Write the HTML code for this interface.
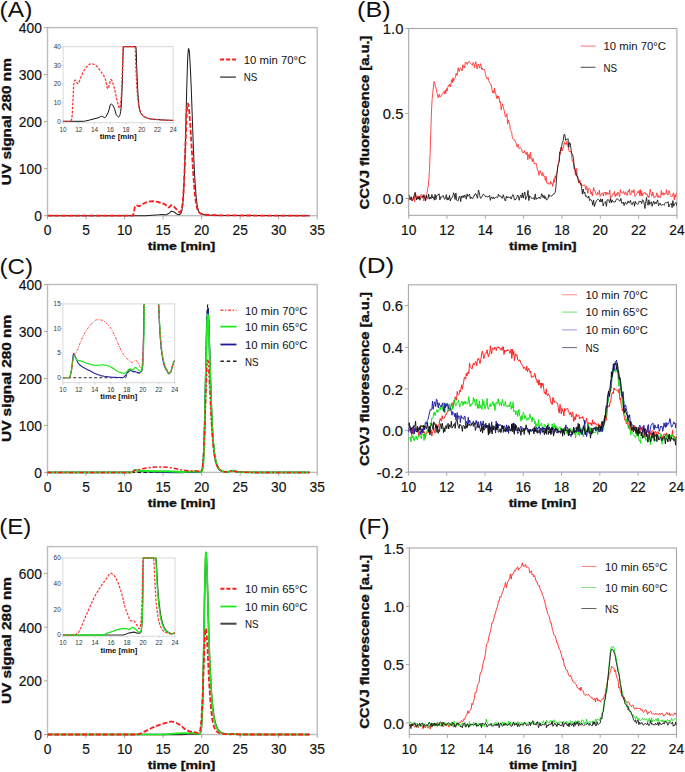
<!DOCTYPE html>
<html><head><meta charset="utf-8"><style>
html,body{margin:0;padding:0;background:#fff;width:685px;height:772px;overflow:hidden}
svg{display:block;font-family:"Liberation Sans", sans-serif}
</style></head><body>
<svg width="685" height="772" viewBox="0 0 685 772">
<defs><clipPath id="cA"><rect x="47.5" y="25.6" width="269.7" height="192.1"/></clipPath><clipPath id="cB"><rect x="408.7" y="28.5" width="268.2" height="186.8"/></clipPath><clipPath id="cC"><rect x="47.5" y="281.5" width="269.7" height="192.9"/></clipPath><clipPath id="cIC"><rect x="62.9" y="304.3" width="111.8" height="78.4"/></clipPath><clipPath id="cD"><rect x="408.4" y="284.8" width="268" height="187.4"/></clipPath><clipPath id="cE"><rect x="47.5" y="546.6" width="269.7" height="189.9"/></clipPath><clipPath id="cIE"><rect x="62.9" y="557" width="112.1" height="79.2"/></clipPath><clipPath id="cF"><rect x="409.3" y="548" width="267.2" height="186.4"/></clipPath></defs>
<rect x="47.5" y="27.6" width="269.7" height="188.1" fill="none" stroke="#bdbdbd" stroke-width="1.4"/>
<line x1="47.5" y1="215.7" x2="47.5" y2="219.2" stroke="#a8a8a8" stroke-width="1"/>
<text x="47.5" y="235" font-size="13.8" text-anchor="middle" fill="#111" stroke="#111" stroke-width="0.15">0</text>
<line x1="86.03" y1="215.7" x2="86.03" y2="219.2" stroke="#a8a8a8" stroke-width="1"/>
<text x="86.03" y="235" font-size="13.8" text-anchor="middle" fill="#111" stroke="#111" stroke-width="0.15">5</text>
<line x1="124.56" y1="215.7" x2="124.56" y2="219.2" stroke="#a8a8a8" stroke-width="1"/>
<text x="124.56" y="235" font-size="13.8" text-anchor="middle" fill="#111" stroke="#111" stroke-width="0.15">10</text>
<line x1="163.09" y1="215.7" x2="163.09" y2="219.2" stroke="#a8a8a8" stroke-width="1"/>
<text x="163.09" y="235" font-size="13.8" text-anchor="middle" fill="#111" stroke="#111" stroke-width="0.15">15</text>
<line x1="201.61" y1="215.7" x2="201.61" y2="219.2" stroke="#a8a8a8" stroke-width="1"/>
<text x="201.61" y="235" font-size="13.8" text-anchor="middle" fill="#111" stroke="#111" stroke-width="0.15">20</text>
<line x1="240.14" y1="215.7" x2="240.14" y2="219.2" stroke="#a8a8a8" stroke-width="1"/>
<text x="240.14" y="235" font-size="13.8" text-anchor="middle" fill="#111" stroke="#111" stroke-width="0.15">25</text>
<line x1="278.67" y1="215.7" x2="278.67" y2="219.2" stroke="#a8a8a8" stroke-width="1"/>
<text x="278.67" y="235" font-size="13.8" text-anchor="middle" fill="#111" stroke="#111" stroke-width="0.15">30</text>
<line x1="317.2" y1="215.7" x2="317.2" y2="219.2" stroke="#a8a8a8" stroke-width="1"/>
<text x="317.2" y="235" font-size="13.8" text-anchor="middle" fill="#111" stroke="#111" stroke-width="0.15">35</text>
<line x1="44" y1="215.7" x2="47.5" y2="215.7" stroke="#a8a8a8" stroke-width="1"/>
<text x="41.9" y="221.3" font-size="13.8" text-anchor="end" fill="#111" stroke="#111" stroke-width="0.15">0</text>
<line x1="44" y1="168.67" x2="47.5" y2="168.67" stroke="#a8a8a8" stroke-width="1"/>
<text x="41.9" y="174.27" font-size="13.8" text-anchor="end" fill="#111" stroke="#111" stroke-width="0.15">100</text>
<line x1="44" y1="121.65" x2="47.5" y2="121.65" stroke="#a8a8a8" stroke-width="1"/>
<text x="41.9" y="127.25" font-size="13.8" text-anchor="end" fill="#111" stroke="#111" stroke-width="0.15">200</text>
<line x1="44" y1="74.62" x2="47.5" y2="74.62" stroke="#a8a8a8" stroke-width="1"/>
<text x="41.9" y="80.22" font-size="13.8" text-anchor="end" fill="#111" stroke="#111" stroke-width="0.15">300</text>
<line x1="44" y1="27.6" x2="47.5" y2="27.6" stroke="#a8a8a8" stroke-width="1"/>
<text x="41.9" y="33.2" font-size="13.8" text-anchor="end" fill="#111" stroke="#111" stroke-width="0.15">400</text>
<text x="181.5" y="250.3" font-size="11.5" text-anchor="middle" fill="#111" stroke="#111" stroke-width="0.35" font-weight="bold" textLength="67.5" lengthAdjust="spacingAndGlyphs">time [min]</text>
<text x="11" y="121.65" font-size="12.8" text-anchor="middle" fill="#111" stroke="#111" stroke-width="0.35" font-weight="bold" textLength="127" lengthAdjust="spacingAndGlyphs" transform="rotate(-90 11 121.65)">UV signal 280 nm</text>
<text x="-0.4" y="16.6" font-size="21.5" text-anchor="start" fill="#111" textLength="32.8" lengthAdjust="spacingAndGlyphs">(A)</text>
<path d="M47.5,215.7 145.5,215.7 158.8,214.8 162.2,214.4 163.2,214.5 164.8,214.7 165.8,214.7 166.8,214.4 168.5,213.6 169.2,213.1 170.5,211.8 171.2,211.4 171.5,211.3 172.5,211.4 174.2,212.1 174.8,212.5 176.5,213.9 176.8,214.1 177.8,214.4 178.5,214.6 179.2,214.6 179.8,214.4 180.5,213.9 180.8,213.4 181.2,212.8 181.5,211.9 181.8,210.7 182.2,209.0 182.5,206.7 183.2,199.8 183.8,188.8 184.5,172.7 185.2,151.4 186.8,85.9 187.5,64.1 187.8,56.3 188.2,51.0 188.5,48.6 188.8,48.9 189.2,50.7 189.5,53.9 189.8,58.4 190.5,70.9 191.2,86.9 193.5,150.7 194.5,172.9 195.2,184.6 196.2,197.3 196.5,200.5 197.2,205.3 197.5,207.1 198.2,209.8 198.8,211.5 199.5,212.6 200.2,213.3 200.8,213.7 201.5,214.0 202.8,214.3 204.8,214.7 206.8,214.9 208.8,215.1 211.5,215.2 224.8,215.4 242.5,215.5 309.5,215.7" fill="none" stroke="#222" stroke-width="1.05" stroke-linejoin="round" clip-path="url(#cA)"/>
<path d="M47.5,215.7 132.2,215.7 132.5,215.6 132.8,215.3 133.5,214.1 133.8,212.8 134.8,207.1 135.2,206.1 135.8,205.5 136.2,205.3 136.5,205.3 137.2,205.5 138.5,206.1 139.2,206.2 139.5,206.1 140.2,205.8 141.8,204.6 144.2,203.3 145.5,202.7 147.5,202.0 149.5,201.5 150.8,201.3 152.2,201.2 154.5,201.3 157.8,201.9 159.2,202.3 164.5,204.2 165.5,204.7 165.8,205.0 167.5,206.9 168.2,207.4 168.5,207.5 168.8,207.4 169.2,207.2 170.5,205.8 171.2,205.3 171.5,205.2 172.2,205.3 172.8,205.7 174.5,207.1 177.2,210.2 178.8,211.8 179.5,212.3 179.8,212.4 180.2,212.3 180.5,212.1 180.8,211.5 181.5,209.6 181.8,208.3 182.5,204.1 183.2,197.1 183.8,186.4 184.5,171.8 186.5,118.2 186.8,111.6 187.2,106.8 187.5,104.1 187.8,103.6 188.2,104.2 188.5,105.7 188.8,107.9 189.2,110.9 189.8,118.8 190.5,128.6 193.2,173.0 194.2,186.5 194.8,193.6 195.8,201.7 196.2,203.8 196.8,207.0 197.5,209.4 198.2,211.0 198.8,212.1 199.5,212.8 200.2,213.3 201.2,213.8 204.8,214.6 208.8,215.0 213.5,215.2 224.2,215.4 245.5,215.5 309.5,215.7" fill="none" stroke="#ff1a1a" stroke-width="1.8" stroke-linejoin="round" stroke-dasharray="4.9 2.0" clip-path="url(#cA)"/>
<line x1="220.1" y1="59.6" x2="235.9" y2="59.6" stroke="#ff1a1a" stroke-width="2" stroke-dasharray="4 2"/>
<text x="243.8" y="63.9" font-size="10.7" text-anchor="start" fill="#111" textLength="62.5" lengthAdjust="spacingAndGlyphs">10 min 70°C</text>
<line x1="220.1" y1="77.1" x2="235.9" y2="77.1" stroke="#111" stroke-width="1.1"/>
<text x="243.8" y="81.4" font-size="10.7" text-anchor="start" fill="#111" textLength="13.6" lengthAdjust="spacingAndGlyphs">NS</text>
<rect x="63.1" y="46.7" width="110.1" height="76" fill="#fff" stroke="#d4d4d4" stroke-width="0.9"/>
<line x1="63.1" y1="122.7" x2="63.1" y2="124.5" stroke="#c8c8c8" stroke-width="0.8"/>
<text x="63.1" y="131.6" font-size="6.4" text-anchor="middle" fill="#333">10</text>
<line x1="78.83" y1="122.7" x2="78.83" y2="124.5" stroke="#c8c8c8" stroke-width="0.8"/>
<text x="78.83" y="131.6" font-size="6.4" text-anchor="middle" fill="#333">12</text>
<line x1="94.56" y1="122.7" x2="94.56" y2="124.5" stroke="#c8c8c8" stroke-width="0.8"/>
<text x="94.56" y="131.6" font-size="6.4" text-anchor="middle" fill="#333">14</text>
<line x1="110.29" y1="122.7" x2="110.29" y2="124.5" stroke="#c8c8c8" stroke-width="0.8"/>
<text x="110.29" y="131.6" font-size="6.4" text-anchor="middle" fill="#333">16</text>
<line x1="126.01" y1="122.7" x2="126.01" y2="124.5" stroke="#c8c8c8" stroke-width="0.8"/>
<text x="126.01" y="131.6" font-size="6.4" text-anchor="middle" fill="#333">18</text>
<line x1="141.74" y1="122.7" x2="141.74" y2="124.5" stroke="#c8c8c8" stroke-width="0.8"/>
<text x="141.74" y="131.6" font-size="6.4" text-anchor="middle" fill="#333">20</text>
<line x1="157.47" y1="122.7" x2="157.47" y2="124.5" stroke="#c8c8c8" stroke-width="0.8"/>
<text x="157.47" y="131.6" font-size="6.4" text-anchor="middle" fill="#333">22</text>
<line x1="173.2" y1="122.7" x2="173.2" y2="124.5" stroke="#c8c8c8" stroke-width="0.8"/>
<text x="173.2" y="131.6" font-size="6.4" text-anchor="middle" fill="#333">24</text>
<line x1="61.3" y1="121.3" x2="63.1" y2="121.3" stroke="#c8c8c8" stroke-width="0.8"/>
<text x="60.9" y="123.6" font-size="6.4" text-anchor="end" fill="#333">0</text>
<line x1="61.3" y1="102.65" x2="63.1" y2="102.65" stroke="#c8c8c8" stroke-width="0.8"/>
<text x="60.9" y="104.95" font-size="6.4" text-anchor="end" fill="#333">10</text>
<line x1="61.3" y1="84" x2="63.1" y2="84" stroke="#c8c8c8" stroke-width="0.8"/>
<text x="60.9" y="86.3" font-size="6.4" text-anchor="end" fill="#333">20</text>
<line x1="61.3" y1="65.35" x2="63.1" y2="65.35" stroke="#c8c8c8" stroke-width="0.8"/>
<text x="60.9" y="67.65" font-size="6.4" text-anchor="end" fill="#333">30</text>
<line x1="61.3" y1="46.7" x2="63.1" y2="46.7" stroke="#c8c8c8" stroke-width="0.8"/>
<text x="60.9" y="49" font-size="6.4" text-anchor="end" fill="#333">40</text>
<text x="118.15" y="139.4" font-size="6.6" text-anchor="middle" fill="#111" font-weight="bold" textLength="37" lengthAdjust="spacingAndGlyphs">time [min]</text>
<path d="M63.1,121.3 83.7,121.3 85.4,121.0 89.4,120.1 98.0,117.8 99.0,117.5 100.7,116.5 101.4,116.3 102.0,116.3 102.7,116.6 104.0,117.4 104.7,117.6 105.0,117.5 105.3,117.4 105.7,117.0 106.3,116.1 108.0,112.9 108.7,110.9 110.0,105.8 110.3,104.8 110.7,104.1 111.0,103.8 111.3,103.8 111.7,104.0 112.3,104.7 113.0,105.7 114.0,107.5 114.7,109.3 116.0,113.9 116.3,114.7 116.7,115.2 117.7,116.5 118.3,117.0 118.6,117.0 119.0,116.8 119.3,116.4 119.6,115.8 120.0,114.9 120.3,113.5 120.6,111.6 121.0,108.9 121.3,105.1 121.6,99.9 122.3,83.3 123.0,55.1 123.3,46.7 135.9,46.7 136.3,52.3 136.6,63.9 137.3,81.8 137.6,88.5 138.3,98.5 138.9,105.0 139.6,109.1 140.3,111.7 140.6,112.6 141.3,113.9 141.9,114.8 142.6,115.4 143.9,116.5 144.9,117.2 145.6,117.5 147.3,118.2 149.3,118.8 152.6,119.2 157.9,119.6 165.2,120.1 173.2,120.4" fill="none" stroke="#111" stroke-width="1.0" stroke-linejoin="round"/>
<path d="M63.1,121.3 70.8,121.3 71.1,121.2 71.4,120.2 72.1,116.2 72.4,112.5 73.4,90.4 73.7,84.8 74.1,82.5 74.4,81.3 74.7,80.4 75.1,80.1 75.4,80.2 75.7,80.6 77.1,82.9 77.4,83.4 77.7,83.6 78.1,83.6 78.4,83.3 79.1,81.9 80.7,77.4 83.1,72.3 84.4,69.7 85.1,68.8 85.7,68.0 88.0,65.5 89.4,64.4 90.0,64.0 90.7,63.8 91.7,63.7 93.0,64.0 94.7,64.8 96.7,66.2 97.4,66.8 98.4,68.0 101.4,72.4 103.7,75.5 104.3,76.6 105.0,78.1 105.7,80.6 107.0,86.8 107.3,87.8 107.7,88.5 108.0,88.6 108.3,88.2 108.7,87.4 110.0,82.0 110.3,80.8 110.7,79.9 111.0,79.5 111.3,79.6 111.7,80.0 112.3,81.6 114.0,86.8 114.7,89.6 116.7,99.1 118.3,105.4 119.0,107.5 119.3,108.1 119.6,108.2 120.0,107.7 120.3,106.2 120.6,103.6 121.3,95.6 121.6,90.1 122.3,72.7 123.0,46.7 134.9,46.7 135.3,49.7 135.9,68.5 136.6,82.6 136.9,88.2 137.6,97.0 138.3,103.0 138.9,107.1 139.3,108.7 139.9,110.9 140.3,111.8 140.9,113.1 141.6,114.0 142.3,114.6 143.6,115.8 144.9,116.8 145.6,117.1 147.3,117.9 149.3,118.6 151.2,119.0 153.6,119.3 161.9,120.0 165.5,120.2 173.2,120.4" fill="none" stroke="#ff3030" stroke-width="1.25" stroke-linejoin="round" stroke-dasharray="2.6 1.4"/>
<rect x="408.7" y="28.5" width="268.2" height="186.8" fill="none" stroke="#a4a4a4" stroke-width="1.05"/>
<line x1="408.7" y1="215.3" x2="408.7" y2="218.8" stroke="#a8a8a8" stroke-width="1"/>
<text x="408.7" y="234.6" font-size="13.8" text-anchor="middle" fill="#111" stroke="#111" stroke-width="0.15">10</text>
<line x1="447.01" y1="215.3" x2="447.01" y2="218.8" stroke="#a8a8a8" stroke-width="1"/>
<text x="447.01" y="234.6" font-size="13.8" text-anchor="middle" fill="#111" stroke="#111" stroke-width="0.15">12</text>
<line x1="485.33" y1="215.3" x2="485.33" y2="218.8" stroke="#a8a8a8" stroke-width="1"/>
<text x="485.33" y="234.6" font-size="13.8" text-anchor="middle" fill="#111" stroke="#111" stroke-width="0.15">14</text>
<line x1="523.64" y1="215.3" x2="523.64" y2="218.8" stroke="#a8a8a8" stroke-width="1"/>
<text x="523.64" y="234.6" font-size="13.8" text-anchor="middle" fill="#111" stroke="#111" stroke-width="0.15">16</text>
<line x1="561.96" y1="215.3" x2="561.96" y2="218.8" stroke="#a8a8a8" stroke-width="1"/>
<text x="561.96" y="234.6" font-size="13.8" text-anchor="middle" fill="#111" stroke="#111" stroke-width="0.15">18</text>
<line x1="600.27" y1="215.3" x2="600.27" y2="218.8" stroke="#a8a8a8" stroke-width="1"/>
<text x="600.27" y="234.6" font-size="13.8" text-anchor="middle" fill="#111" stroke="#111" stroke-width="0.15">20</text>
<line x1="638.59" y1="215.3" x2="638.59" y2="218.8" stroke="#a8a8a8" stroke-width="1"/>
<text x="638.59" y="234.6" font-size="13.8" text-anchor="middle" fill="#111" stroke="#111" stroke-width="0.15">22</text>
<line x1="676.9" y1="215.3" x2="676.9" y2="218.8" stroke="#a8a8a8" stroke-width="1"/>
<text x="676.9" y="234.6" font-size="13.8" text-anchor="middle" fill="#111" stroke="#111" stroke-width="0.15">24</text>
<line x1="405.2" y1="198.55" x2="408.7" y2="198.55" stroke="#a8a8a8" stroke-width="1"/>
<text x="403.4" y="204.15" font-size="13.8" text-anchor="end" fill="#111" stroke="#111" stroke-width="0.15" textLength="20.6" lengthAdjust="spacingAndGlyphs">0.0</text>
<line x1="405.2" y1="113.53" x2="408.7" y2="113.53" stroke="#a8a8a8" stroke-width="1"/>
<text x="403.4" y="119.13" font-size="13.8" text-anchor="end" fill="#111" stroke="#111" stroke-width="0.15" textLength="20.6" lengthAdjust="spacingAndGlyphs">0.5</text>
<line x1="405.2" y1="28.5" x2="408.7" y2="28.5" stroke="#a8a8a8" stroke-width="1"/>
<text x="403.4" y="34.1" font-size="13.8" text-anchor="end" fill="#111" stroke="#111" stroke-width="0.15" textLength="20.6" lengthAdjust="spacingAndGlyphs">1.0</text>
<text x="542.8" y="249.9" font-size="11.5" text-anchor="middle" fill="#111" stroke="#111" stroke-width="0.35" font-weight="bold" textLength="67.5" lengthAdjust="spacingAndGlyphs">time [min]</text>
<text x="369" y="122.5" font-size="12.8" text-anchor="middle" fill="#111" stroke="#111" stroke-width="0.35" font-weight="bold" textLength="174" lengthAdjust="spacingAndGlyphs" transform="rotate(-90 369 122.5)">CCVJ fluorescence [a.u.]</text>
<text x="357" y="16.6" font-size="21.5" text-anchor="start" fill="#111" textLength="33.6" lengthAdjust="spacingAndGlyphs">(B)</text>
<path d="M408.7,200.8 409.4,194.9 410.0,199.6 410.7,198.3 411.3,197.9 412.0,199.3 412.6,200.7 413.3,196.3 413.9,196.9 414.6,202.0 415.2,192.5 415.9,195.5 416.5,199.3 417.2,195.6 417.8,198.7 418.5,197.7 419.1,195.8 419.8,200.3 420.4,196.3 421.1,194.4 421.7,194.6 422.4,198.1 423.0,195.4 423.7,201.0 424.3,197.7 425.0,196.3 425.6,200.3 426.3,197.4 426.9,193.4 427.6,188.7 428.2,186.7 428.9,178.9 429.5,169.6 430.2,151.1 430.8,131.6 431.5,110.9 432.1,99.6 432.8,92.9 433.4,87.0 434.1,81.5 434.7,83.0 435.4,87.0 436.0,87.1 436.7,92.2 437.3,93.8 438.0,97.7 438.6,96.2 439.3,94.2 439.9,97.0 440.6,96.7 441.2,95.4 441.9,95.1 442.6,93.7 443.2,92.8 443.9,91.6 444.5,93.7 445.2,90.3 445.8,93.5 446.5,88.5 447.1,91.0 447.8,87.4 448.4,85.2 449.1,86.2 449.7,84.0 450.4,86.9 451.0,84.1 451.7,79.6 452.3,82.7 453.0,77.7 453.6,81.2 454.3,79.2 454.9,78.7 455.6,75.3 456.2,73.1 456.9,75.6 457.5,72.7 458.2,67.7 458.8,71.1 459.5,71.3 460.1,67.9 460.8,68.5 461.4,69.0 462.1,71.0 462.7,64.8 463.4,67.5 464.0,65.9 464.7,67.9 465.3,62.3 466.0,63.2 466.6,62.3 467.3,64.5 467.9,62.9 468.6,61.8 469.2,61.3 469.9,62.7 470.5,63.3 471.2,63.9 471.8,64.7 472.5,65.2 473.1,62.3 473.8,63.7 474.4,67.8 475.1,64.0 475.8,61.7 476.4,65.0 477.1,69.0 477.7,65.7 478.4,64.2 479.0,66.1 479.7,68.1 480.3,63.7 481.0,64.3 481.6,69.4 482.3,68.0 482.9,69.7 483.6,69.6 484.2,69.0 484.9,71.5 485.5,74.3 486.2,77.2 486.8,78.9 487.5,78.5 488.1,77.3 488.8,80.6 489.4,82.5 490.1,83.4 490.7,85.1 491.4,85.1 492.0,89.9 492.7,92.9 493.3,90.6 494.0,93.2 494.6,88.2 495.3,93.2 495.9,94.4 496.6,98.4 497.2,95.5 497.9,98.7 498.5,96.1 499.2,97.9 499.8,102.8 500.5,101.5 501.1,109.8 501.8,106.7 502.4,103.8 503.1,106.3 503.7,109.1 504.4,111.1 505.0,115.7 505.7,117.2 506.3,115.3 507.0,113.6 507.6,124.1 508.3,119.9 508.9,122.0 509.6,123.4 510.3,129.6 510.9,131.0 511.6,131.9 512.2,136.3 512.9,138.7 513.5,139.7 514.2,139.5 514.8,139.9 515.5,142.1 516.1,143.1 516.8,146.0 517.4,147.2 518.1,144.2 518.7,147.8 519.4,148.9 520.0,147.5 520.7,147.7 521.3,148.3 522.0,150.9 522.6,152.5 523.3,152.3 523.9,152.9 524.6,150.6 525.2,153.4 525.9,152.9 526.5,154.7 527.2,151.9 527.8,159.8 528.5,154.7 529.1,154.3 529.8,159.0 530.4,152.2 531.1,158.0 531.7,158.8 532.4,161.7 533.0,158.4 533.7,161.0 534.3,163.9 535.0,163.3 535.6,163.5 536.3,163.5 536.9,166.8 537.6,170.5 538.2,170.6 538.9,175.4 539.5,172.9 540.2,170.6 540.8,172.1 541.5,174.3 542.1,175.8 542.8,172.4 543.5,176.1 544.1,175.6 544.8,177.5 545.4,180.5 546.1,176.2 546.7,183.0 547.4,183.6 548.0,182.5 548.7,183.8 549.3,183.9 550.0,184.5 550.6,181.3 551.3,183.5 551.9,182.7 552.6,186.4 553.2,183.9 553.9,178.6 554.5,182.3 555.2,175.7 555.8,178.8 556.5,173.1 557.1,172.3 557.8,166.2 558.4,164.8 559.1,159.7 559.7,152.1 560.4,154.2 561.0,147.1 561.7,150.9 562.3,151.0 563.0,146.9 563.6,147.0 564.3,141.8 564.9,143.8 565.6,143.3 566.2,144.9 566.9,141.3 567.5,145.6 568.2,146.8 568.8,150.5 569.5,152.0 570.1,151.3 570.8,151.6 571.4,153.8 572.1,160.9 572.7,160.2 573.4,163.5 574.0,168.8 574.7,167.3 575.3,175.3 576.0,171.5 576.7,168.5 577.3,177.9 578.0,177.3 578.6,183.1 579.3,182.0 579.9,179.8 580.6,184.8 581.2,183.5 581.9,185.1 582.5,186.0 583.2,185.6 583.8,185.7 584.5,184.8 585.1,186.3 585.8,190.0 586.4,186.1 587.1,186.9 587.7,193.5 588.4,188.8 589.0,188.7 589.7,188.6 590.3,189.8 591.0,194.0 591.6,192.0 592.3,196.1 592.9,192.1 593.6,187.4 594.2,190.5 594.9,190.3 595.5,193.4 596.2,194.6 596.8,194.9 597.5,192.3 598.1,194.4 598.8,194.1 599.4,190.2 600.1,196.4 600.7,195.7 601.4,193.9 602.0,193.1 602.7,193.1 603.3,196.0 604.0,192.5 604.6,193.2 605.3,192.1 605.9,195.3 606.6,192.4 607.2,192.4 607.9,194.4 608.5,193.4 609.2,194.2 609.8,190.0 610.5,199.9 611.2,196.2 611.8,196.8 612.5,193.8 613.1,194.5 613.8,193.9 614.4,191.4 615.1,196.6 615.7,194.9 616.4,193.5 617.0,195.7 617.7,192.3 618.3,192.4 619.0,194.7 619.6,197.0 620.3,189.6 620.9,192.1 621.6,192.2 622.2,193.0 622.9,193.2 623.5,191.4 624.2,193.3 624.8,194.7 625.5,191.7 626.1,193.2 626.8,195.1 627.4,195.4 628.1,190.8 628.7,192.0 629.4,189.1 630.0,194.6 630.7,195.1 631.3,192.6 632.0,190.5 632.6,192.3 633.3,192.6 633.9,189.5 634.6,195.3 635.2,196.4 635.9,195.3 636.5,194.4 637.2,192.9 637.8,191.5 638.5,192.9 639.1,190.4 639.8,195.7 640.4,189.6 641.1,195.7 641.7,191.3 642.4,196.0 643.0,193.2 643.7,193.8 644.4,192.8 645.0,192.3 645.7,194.5 646.3,194.2 647.0,193.5 647.6,196.9 648.3,195.7 648.9,197.7 649.6,194.1 650.2,189.2 650.9,192.5 651.5,196.1 652.2,195.8 652.8,192.1 653.5,195.3 654.1,197.8 654.8,196.5 655.4,196.6 656.1,196.6 656.7,192.8 657.4,194.2 658.0,197.6 658.7,195.6 659.3,196.9 660.0,197.1 660.6,197.8 661.3,190.6 661.9,195.1 662.6,193.2 663.2,192.6 663.9,195.4 664.5,193.3 665.2,193.3 665.8,194.1 666.5,189.8 667.1,194.0 667.8,195.1 668.4,193.2 669.1,190.7 669.7,192.5 670.4,195.7 671.0,196.6 671.7,196.8 672.3,196.2 673.0,193.9 673.6,192.9 674.3,199.8 674.9,194.8 675.6,197.2 676.2,193.3 676.9,192.8" fill="none" stroke="#ff2a2a" stroke-width="0.85" stroke-linejoin="round" clip-path="url(#cB)"/>
<path d="M408.7,199.3 409.5,198.6 410.3,199.6 411.1,196.8 411.9,200.8 412.7,199.8 413.5,198.9 414.3,194.9 415.1,192.5 415.9,197.3 416.7,199.9 417.5,197.2 418.3,199.1 419.1,196.4 419.9,199.6 420.7,198.0 421.5,197.3 422.3,196.2 423.1,197.4 423.9,194.6 424.7,196.9 425.5,200.9 426.3,195.3 427.1,197.8 427.9,198.6 428.7,194.1 429.5,199.2 430.3,197.1 431.1,198.7 431.9,194.5 432.7,198.0 433.5,196.8 434.3,200.2 435.1,194.4 435.9,199.6 436.7,195.6 437.5,195.2 438.3,195.0 439.1,193.8 439.9,199.9 440.7,196.8 441.5,197.3 442.3,196.8 443.1,195.4 443.9,197.4 444.7,199.3 445.5,197.9 446.3,194.6 447.1,200.1 447.9,197.5 448.7,199.7 449.5,195.4 450.3,201.0 451.1,198.3 451.9,197.8 452.7,197.3 453.5,192.7 454.3,194.3 455.1,199.5 455.9,193.0 456.7,199.8 457.5,201.1 458.3,200.3 459.1,196.8 459.9,196.0 460.7,201.6 461.5,196.2 462.3,197.5 463.1,195.5 463.9,197.7 464.7,195.1 465.5,195.7 466.3,199.2 467.1,193.9 467.9,196.4 468.7,195.3 469.5,194.2 470.3,198.7 471.1,196.9 471.9,198.4 472.7,198.6 473.5,196.1 474.3,196.0 475.1,193.9 476.0,193.8 476.8,196.6 477.6,198.3 478.4,190.0 479.2,192.2 480.0,196.8 480.8,198.4 481.6,197.4 482.4,195.9 483.2,194.2 484.0,194.5 484.8,195.6 485.6,197.0 486.4,196.2 487.2,197.1 488.0,196.4 488.8,196.7 489.6,195.4 490.4,200.4 491.2,197.2 492.0,197.1 492.8,198.8 493.6,196.9 494.4,198.7 495.2,197.9 496.0,197.1 496.8,197.0 497.6,197.7 498.4,194.3 499.2,196.1 500.0,195.9 500.8,196.0 501.6,197.9 502.4,198.3 503.2,194.8 504.0,197.2 504.8,200.1 505.6,201.0 506.4,196.1 507.2,198.0 508.0,196.7 508.8,197.7 509.6,197.4 510.4,196.9 511.2,199.1 512.0,196.6 512.8,194.6 513.6,195.2 514.4,200.2 515.2,199.4 516.0,199.4 516.8,197.2 517.6,195.0 518.4,196.1 519.2,200.3 520.0,196.7 520.8,195.1 521.6,197.7 522.4,192.9 523.2,198.2 524.0,194.5 524.8,192.1 525.6,199.5 526.4,197.6 527.2,195.7 528.0,190.4 528.8,200.6 529.6,195.8 530.4,196.4 531.2,197.9 532.0,198.7 532.8,198.1 533.6,197.7 534.4,199.7 535.2,193.9 536.0,199.4 536.8,198.0 537.6,198.5 538.4,198.0 539.2,197.0 540.0,198.7 540.8,197.7 541.6,193.7 542.4,195.0 543.2,197.8 544.0,195.3 544.8,198.7 545.6,196.7 546.4,200.0 547.2,199.4 548.0,198.8 548.8,194.5 549.6,196.5 550.4,195.7 551.2,196.4 552.0,195.7 552.8,195.1 553.6,193.8 554.4,193.8 555.2,192.2 556.0,186.3 556.8,175.4 557.6,167.9 558.4,163.1 559.2,162.4 560.0,151.6 560.8,149.8 561.6,146.4 562.4,142.5 563.2,140.5 564.0,134.5 564.8,134.5 565.6,140.5 566.4,139.4 567.2,139.4 568.0,138.5 568.8,147.3 569.6,142.5 570.4,143.7 571.2,150.9 572.0,153.9 572.8,154.9 573.6,160.3 574.4,167.2 575.2,169.9 576.0,172.5 576.8,176.3 577.6,176.4 578.4,180.4 579.2,182.0 580.0,183.2 580.8,183.2 581.6,188.2 582.4,194.1 583.2,189.0 584.0,193.4 584.8,192.1 585.6,196.5 586.4,195.8 587.2,197.5 588.0,198.0 588.8,196.0 589.6,200.6 590.4,199.5 591.2,199.8 592.0,201.3 592.8,205.2 593.6,200.0 594.4,206.6 595.2,204.0 596.0,201.9 596.8,200.2 597.6,199.3 598.4,199.5 599.2,200.0 600.0,202.0 600.8,198.8 601.6,201.9 602.4,199.1 603.2,206.0 604.0,203.4 604.8,202.6 605.6,201.5 606.4,206.4 607.2,199.9 608.0,199.5 608.8,200.0 609.6,202.7 610.5,198.7 611.3,202.8 612.1,199.9 612.9,201.9 613.7,201.8 614.5,202.1 615.3,201.9 616.1,199.6 616.9,198.9 617.7,199.0 618.5,200.1 619.3,200.6 620.1,201.1 620.9,198.4 621.7,203.0 622.5,203.4 623.3,202.0 624.1,205.6 624.9,202.7 625.7,202.4 626.5,204.4 627.3,203.5 628.1,200.9 628.9,202.9 629.7,202.3 630.5,200.3 631.3,203.8 632.1,204.9 632.9,202.7 633.7,201.7 634.5,206.3 635.3,201.3 636.1,203.4 636.9,203.6 637.7,204.5 638.5,203.2 639.3,200.9 640.1,201.8 640.9,201.3 641.7,203.7 642.5,199.7 643.3,200.4 644.1,203.1 644.9,208.5 645.7,203.0 646.5,197.5 647.3,203.3 648.1,205.3 648.9,199.8 649.7,204.6 650.5,202.3 651.3,201.8 652.1,206.4 652.9,203.2 653.7,201.0 654.5,204.2 655.3,202.2 656.1,203.6 656.9,201.5 657.7,199.9 658.5,205.9 659.3,204.3 660.1,203.0 660.9,205.1 661.7,205.5 662.5,204.6 663.3,204.5 664.1,205.3 664.9,203.3 665.7,202.4 666.5,202.6 667.3,202.8 668.1,201.7 668.9,207.0 669.7,204.5 670.5,203.9 671.3,203.3 672.1,207.7 672.9,200.6 673.7,206.3 674.5,204.0 675.3,203.1 676.1,202.4 676.9,206.1" fill="none" stroke="#111" stroke-width="0.85" stroke-linejoin="round" clip-path="url(#cB)"/>
<line x1="580.7" y1="46.1" x2="595.5" y2="46.1" stroke="#ff6060" stroke-width="0.9"/>
<text x="603.5" y="50.4" font-size="10.7" text-anchor="start" fill="#111" textLength="62.5" lengthAdjust="spacingAndGlyphs">10 min 70°C</text>
<line x1="580.7" y1="67.3" x2="595.5" y2="67.3" stroke="#333" stroke-width="0.9"/>
<text x="603.5" y="71.6" font-size="10.7" text-anchor="start" fill="#111" textLength="13.6" lengthAdjust="spacingAndGlyphs">NS</text>
<rect x="47.5" y="284.5" width="269.7" height="187.9" fill="none" stroke="#bdbdbd" stroke-width="1.4"/>
<line x1="47.5" y1="472.4" x2="47.5" y2="475.9" stroke="#a8a8a8" stroke-width="1"/>
<text x="47.5" y="491.7" font-size="13.8" text-anchor="middle" fill="#111" stroke="#111" stroke-width="0.15">0</text>
<line x1="86.03" y1="472.4" x2="86.03" y2="475.9" stroke="#a8a8a8" stroke-width="1"/>
<text x="86.03" y="491.7" font-size="13.8" text-anchor="middle" fill="#111" stroke="#111" stroke-width="0.15">5</text>
<line x1="124.56" y1="472.4" x2="124.56" y2="475.9" stroke="#a8a8a8" stroke-width="1"/>
<text x="124.56" y="491.7" font-size="13.8" text-anchor="middle" fill="#111" stroke="#111" stroke-width="0.15">10</text>
<line x1="163.09" y1="472.4" x2="163.09" y2="475.9" stroke="#a8a8a8" stroke-width="1"/>
<text x="163.09" y="491.7" font-size="13.8" text-anchor="middle" fill="#111" stroke="#111" stroke-width="0.15">15</text>
<line x1="201.61" y1="472.4" x2="201.61" y2="475.9" stroke="#a8a8a8" stroke-width="1"/>
<text x="201.61" y="491.7" font-size="13.8" text-anchor="middle" fill="#111" stroke="#111" stroke-width="0.15">20</text>
<line x1="240.14" y1="472.4" x2="240.14" y2="475.9" stroke="#a8a8a8" stroke-width="1"/>
<text x="240.14" y="491.7" font-size="13.8" text-anchor="middle" fill="#111" stroke="#111" stroke-width="0.15">25</text>
<line x1="278.67" y1="472.4" x2="278.67" y2="475.9" stroke="#a8a8a8" stroke-width="1"/>
<text x="278.67" y="491.7" font-size="13.8" text-anchor="middle" fill="#111" stroke="#111" stroke-width="0.15">30</text>
<line x1="317.2" y1="472.4" x2="317.2" y2="475.9" stroke="#a8a8a8" stroke-width="1"/>
<text x="317.2" y="491.7" font-size="13.8" text-anchor="middle" fill="#111" stroke="#111" stroke-width="0.15">35</text>
<line x1="44" y1="472.4" x2="47.5" y2="472.4" stroke="#a8a8a8" stroke-width="1"/>
<text x="41.9" y="478" font-size="13.8" text-anchor="end" fill="#111" stroke="#111" stroke-width="0.15">0</text>
<line x1="44" y1="425.42" x2="47.5" y2="425.42" stroke="#a8a8a8" stroke-width="1"/>
<text x="41.9" y="431.02" font-size="13.8" text-anchor="end" fill="#111" stroke="#111" stroke-width="0.15">100</text>
<line x1="44" y1="378.45" x2="47.5" y2="378.45" stroke="#a8a8a8" stroke-width="1"/>
<text x="41.9" y="384.05" font-size="13.8" text-anchor="end" fill="#111" stroke="#111" stroke-width="0.15">200</text>
<line x1="44" y1="331.48" x2="47.5" y2="331.48" stroke="#a8a8a8" stroke-width="1"/>
<text x="41.9" y="337.08" font-size="13.8" text-anchor="end" fill="#111" stroke="#111" stroke-width="0.15">300</text>
<line x1="44" y1="284.5" x2="47.5" y2="284.5" stroke="#a8a8a8" stroke-width="1"/>
<text x="41.9" y="290.1" font-size="13.8" text-anchor="end" fill="#111" stroke="#111" stroke-width="0.15">400</text>
<text x="181.5" y="507" font-size="11.5" text-anchor="middle" fill="#111" stroke="#111" stroke-width="0.35" font-weight="bold" textLength="67.5" lengthAdjust="spacingAndGlyphs">time [min]</text>
<text x="11" y="378.45" font-size="12.8" text-anchor="middle" fill="#111" stroke="#111" stroke-width="0.35" font-weight="bold" textLength="127" lengthAdjust="spacingAndGlyphs" transform="rotate(-90 11 378.45)">UV signal 280 nm</text>
<text x="-0.5" y="273.6" font-size="21.5" text-anchor="start" fill="#111" textLength="33.5" lengthAdjust="spacingAndGlyphs">(C)</text>
<path d="M47.5,472.4 184.5,472.4 185.5,472.3 187.5,471.9 188.5,471.8 197.8,471.9 199.5,471.9 200.8,471.7 201.2,471.5 201.5,471.2 201.8,470.6 202.2,469.6 202.5,468.1 202.8,465.7 203.2,462.1 203.5,457.0 203.8,450.1 204.2,441.0 204.8,416.0 206.2,349.1 206.8,320.9 207.2,311.5 207.5,306.1 207.8,304.7 208.2,307.1 208.5,313.0 208.8,321.7 210.5,379.9 211.2,400.7 211.8,417.5 212.8,435.9 213.8,448.2 214.5,454.0 215.2,458.3 215.8,461.6 216.5,464.1 217.2,466.0 218.2,468.0 218.8,468.9 219.5,469.6 220.2,470.2 221.2,470.8 222.2,471.2 223.2,471.4 226.8,472.0 228.8,471.8 230.8,471.1 231.8,470.9 232.5,470.8 233.5,470.9 238.2,471.9 241.2,472.1 243.8,472.3 255.2,472.4 309.5,472.4" fill="none" stroke="#111" stroke-width="1.1" stroke-linejoin="round" stroke-dasharray="3.5 2.5" clip-path="url(#cC)"/>
<path d="M47.5,472.4 130.8,472.4 131.5,472.3 132.8,471.6 134.5,470.2 134.8,470.1 135.2,470.1 139.2,471.0 141.8,471.3 155.5,472.0 163.5,472.2 182.5,472.4 185.5,472.1 188.5,471.7 198.5,471.9 200.5,471.7 201.2,471.5 201.5,471.1 201.8,470.6 202.2,469.6 202.5,468.0 202.8,465.7 203.2,462.1 203.5,457.1 203.8,450.3 204.2,441.4 204.8,416.9 206.2,351.9 206.8,324.6 207.2,315.5 207.5,310.2 207.8,308.9 208.2,311.3 208.5,317.0 208.8,325.3 210.5,381.8 211.2,401.9 211.8,418.3 212.8,436.4 213.8,448.4 214.5,454.1 215.2,458.4 215.8,461.6 216.5,464.1 217.2,466.0 218.2,468.0 218.8,468.9 219.5,469.6 220.2,470.2 221.2,470.8 222.2,471.1 223.2,471.4 226.8,472.0 228.8,471.8 230.8,471.1 231.8,470.9 232.5,470.8 233.5,470.9 238.2,471.9 241.2,472.1 243.8,472.3 255.2,472.4 309.5,472.4" fill="none" stroke="#1c1c96" stroke-width="1.5" stroke-linejoin="round" clip-path="url(#cC)"/>
<path d="M47.5,472.4 130.8,472.4 131.5,472.2 132.8,471.7 134.8,470.4 135.5,470.3 137.5,470.6 139.5,470.7 154.2,471.2 162.8,471.2 167.8,471.2 177.5,471.8 182.5,472.0 185.2,471.9 188.8,471.6 191.8,471.6 194.5,471.4 198.5,471.7 199.8,471.8 200.8,471.6 201.5,471.3 201.8,470.9 202.2,470.3 202.5,469.2 202.8,467.4 203.2,464.7 203.5,460.5 203.8,454.6 204.2,446.7 204.8,423.8 206.2,358.9 206.8,330.8 207.2,321.4 207.5,315.9 207.8,314.5 208.2,317.0 208.5,322.7 208.8,331.1 210.5,385.7 211.2,404.7 211.8,420.0 212.8,436.9 213.8,448.3 214.5,453.8 215.2,458.0 215.8,461.2 216.5,463.7 217.5,466.3 218.5,468.1 219.2,469.0 219.8,469.7 220.5,470.2 221.5,470.7 222.5,471.1 223.5,471.4 226.8,472.0 228.8,471.8 230.8,471.1 231.8,470.8 232.5,470.8 233.5,470.9 238.2,471.9 241.2,472.1 243.8,472.3 255.2,472.4 309.5,472.4" fill="none" stroke="#1ee81e" stroke-width="1.9" stroke-linejoin="round" clip-path="url(#cC)"/>
<path d="M47.5,472.4 131.2,472.4 131.8,472.3 133.2,471.6 134.5,470.6 135.2,470.3 138.2,469.9 142.5,468.8 147.5,467.8 151.8,467.3 155.5,466.9 157.5,466.9 163.5,466.9 169.2,467.5 173.5,468.2 181.5,469.9 187.5,470.7 191.5,470.9 194.2,470.8 195.5,470.8 196.8,470.9 199.8,471.5 200.5,471.4 200.8,471.3 201.2,471.0 201.5,470.5 201.8,469.7 202.2,468.5 202.5,466.8 202.8,464.3 203.2,460.9 203.5,456.4 203.8,450.7 204.5,435.5 206.5,376.3 206.8,369.1 207.2,363.8 207.5,360.8 207.8,360.1 208.2,361.4 208.5,364.7 208.8,369.6 210.8,411.4 211.5,423.8 212.2,434.1 213.2,445.8 214.2,454.0 214.8,457.9 215.5,461.0 216.2,463.4 216.8,465.3 217.8,467.3 218.8,468.7 219.5,469.4 220.2,470.0 220.8,470.4 221.8,470.9 223.5,471.4 226.8,472.0 228.8,471.8 230.8,471.1 231.8,470.8 232.5,470.8 233.5,470.9 238.2,471.9 241.2,472.1 243.8,472.3 255.2,472.4 309.5,472.4" fill="none" stroke="#ff1a1a" stroke-width="1.5" stroke-linejoin="round" stroke-dasharray="4.6 2 2 2" clip-path="url(#cC)"/>
<line x1="220.4" y1="310.3" x2="236.5" y2="310.3" stroke="#ff5050" stroke-width="1.5" stroke-dasharray="3 1.6 1.4 1.6"/>
<text x="245" y="314.6" font-size="10.7" text-anchor="start" fill="#111" textLength="62.5" lengthAdjust="spacingAndGlyphs">10 min 70°C</text>
<line x1="220.4" y1="326.6" x2="236.5" y2="326.6" stroke="#1ee81e" stroke-width="1.8"/>
<text x="245" y="330.9" font-size="10.7" text-anchor="start" fill="#111" textLength="62.5" lengthAdjust="spacingAndGlyphs">10 min 65°C</text>
<line x1="220.4" y1="344.5" x2="236.5" y2="344.5" stroke="#1c1c96" stroke-width="1.8"/>
<text x="245" y="348.8" font-size="10.7" text-anchor="start" fill="#111" textLength="62.5" lengthAdjust="spacingAndGlyphs">10 min 60°C</text>
<line x1="220.4" y1="361.2" x2="236.5" y2="361.2" stroke="#222" stroke-width="1.5" stroke-dasharray="3.5 2.8"/>
<text x="245" y="365.5" font-size="10.7" text-anchor="start" fill="#111" textLength="13.6" lengthAdjust="spacingAndGlyphs">NS</text>
<rect x="62.9" y="303.9" width="111.8" height="78.8" fill="#fff" stroke="#d4d4d4" stroke-width="0.9"/>
<line x1="62.9" y1="382.7" x2="62.9" y2="384.5" stroke="#c8c8c8" stroke-width="0.8"/>
<text x="62.9" y="391.6" font-size="6.4" text-anchor="middle" fill="#333">10</text>
<line x1="78.87" y1="382.7" x2="78.87" y2="384.5" stroke="#c8c8c8" stroke-width="0.8"/>
<text x="78.87" y="391.6" font-size="6.4" text-anchor="middle" fill="#333">12</text>
<line x1="94.84" y1="382.7" x2="94.84" y2="384.5" stroke="#c8c8c8" stroke-width="0.8"/>
<text x="94.84" y="391.6" font-size="6.4" text-anchor="middle" fill="#333">14</text>
<line x1="110.81" y1="382.7" x2="110.81" y2="384.5" stroke="#c8c8c8" stroke-width="0.8"/>
<text x="110.81" y="391.6" font-size="6.4" text-anchor="middle" fill="#333">16</text>
<line x1="126.79" y1="382.7" x2="126.79" y2="384.5" stroke="#c8c8c8" stroke-width="0.8"/>
<text x="126.79" y="391.6" font-size="6.4" text-anchor="middle" fill="#333">18</text>
<line x1="142.76" y1="382.7" x2="142.76" y2="384.5" stroke="#c8c8c8" stroke-width="0.8"/>
<text x="142.76" y="391.6" font-size="6.4" text-anchor="middle" fill="#333">20</text>
<line x1="158.73" y1="382.7" x2="158.73" y2="384.5" stroke="#c8c8c8" stroke-width="0.8"/>
<text x="158.73" y="391.6" font-size="6.4" text-anchor="middle" fill="#333">22</text>
<line x1="174.7" y1="382.7" x2="174.7" y2="384.5" stroke="#c8c8c8" stroke-width="0.8"/>
<text x="174.7" y="391.6" font-size="6.4" text-anchor="middle" fill="#333">24</text>
<line x1="61.1" y1="377.7" x2="62.9" y2="377.7" stroke="#c8c8c8" stroke-width="0.8"/>
<text x="60.7" y="380" font-size="6.4" text-anchor="end" fill="#333">0</text>
<line x1="61.1" y1="353.1" x2="62.9" y2="353.1" stroke="#c8c8c8" stroke-width="0.8"/>
<text x="60.7" y="355.4" font-size="6.4" text-anchor="end" fill="#333">5</text>
<line x1="61.1" y1="328.5" x2="62.9" y2="328.5" stroke="#c8c8c8" stroke-width="0.8"/>
<text x="60.7" y="330.8" font-size="6.4" text-anchor="end" fill="#333">10</text>
<line x1="61.1" y1="303.9" x2="62.9" y2="303.9" stroke="#c8c8c8" stroke-width="0.8"/>
<text x="60.7" y="306.2" font-size="6.4" text-anchor="end" fill="#333">15</text>
<text x="118.8" y="399.4" font-size="6.6" text-anchor="middle" fill="#111" font-weight="bold" textLength="37" lengthAdjust="spacingAndGlyphs">time [min]</text>
<path d="M62.9,377.7 125.1,377.7 125.5,377.6 125.8,377.3 126.1,376.8 128.1,372.4 128.8,371.5 129.1,371.3 131.8,371.3 132.4,371.4 135.4,372.3 138.8,373.0 139.8,373.0 140.1,372.9 140.8,372.5 141.4,371.7 141.8,370.9 142.1,369.6 142.4,367.2 142.8,363.1 143.1,356.1 143.4,344.9 143.8,327.2 144.1,301.4 158.4,301.4 158.7,306.9 159.7,328.5 160.7,342.9 161.4,349.8 162.1,355.1 162.7,359.1 163.7,363.5 164.4,365.7 165.4,368.1 166.0,369.3 167.0,370.7 168.0,372.8 168.4,373.3 168.7,373.6 169.0,373.7 169.4,373.6 170.0,373.1 170.7,372.3 171.0,371.6 171.4,370.5 172.7,364.9 173.0,363.9 174.0,361.6 174.4,361.1 174.7,360.9" fill="none" stroke="#555" stroke-width="1.2" stroke-linejoin="round" stroke-dasharray="3 2.2" clip-path="url(#cIC)"/>
<path d="M62.9,377.7 69.2,377.7 69.6,377.5 69.9,376.8 70.6,374.3 71.6,369.3 72.9,357.2 73.2,355.0 73.5,353.7 73.9,353.7 74.2,354.1 74.5,354.7 75.5,357.2 77.9,362.5 78.2,363.1 78.9,363.9 80.5,365.5 82.2,366.7 85.2,368.5 89.9,370.8 93.8,372.9 97.5,374.5 100.5,375.6 104.2,376.2 112.1,377.2 116.1,377.4 122.8,377.5 123.5,377.3 124.1,376.8 126.1,374.6 126.8,373.5 128.1,371.0 128.8,370.1 129.1,369.9 129.4,369.8 129.8,369.9 131.4,370.8 132.1,371.0 135.4,371.8 138.4,372.7 139.4,372.7 140.1,372.4 140.8,371.9 141.4,371.1 141.8,370.4 142.1,369.1 142.4,366.8 142.8,362.7 143.1,355.7 143.4,344.5 143.8,327.0 144.1,301.4 158.4,301.4 158.7,306.9 159.7,328.3 160.7,342.7 161.4,349.6 162.1,354.9 162.7,359.0 163.7,363.4 164.4,365.6 165.4,368.0 166.0,369.2 167.0,370.7 168.0,372.7 168.4,373.3 168.7,373.6 169.0,373.6 169.4,373.6 170.0,373.0 170.7,372.2 171.0,371.6 171.4,370.5 172.7,364.9 173.0,363.9 174.0,361.6 174.4,361.0 174.7,360.9" fill="none" stroke="#2222a0" stroke-width="1.1" stroke-linejoin="round" clip-path="url(#cIC)"/>
<path d="M62.9,377.7 69.2,377.7 69.6,377.5 69.9,376.7 70.2,375.6 71.6,369.5 72.9,360.3 73.5,356.7 73.9,355.7 74.2,355.6 74.5,355.9 74.9,356.5 75.9,358.7 76.2,359.2 76.9,359.7 78.2,360.3 81.9,361.4 86.2,363.0 91.2,364.6 93.8,365.2 95.2,365.4 96.2,365.4 100.8,365.0 102.5,364.9 104.8,365.1 107.5,365.5 109.5,366.3 112.8,368.1 113.8,368.7 116.5,370.7 117.8,371.5 120.5,372.6 122.1,373.0 123.1,373.2 124.1,373.3 124.5,373.2 125.1,372.9 127.1,371.5 128.8,369.4 129.4,368.9 129.8,368.8 130.1,368.9 132.1,369.8 132.4,369.8 132.8,369.8 133.4,369.3 134.8,367.7 135.1,367.4 135.4,367.4 135.8,367.5 136.1,367.7 137.8,369.4 139.4,370.7 140.1,371.1 140.4,371.2 140.8,371.2 141.1,371.1 141.4,370.8 141.8,370.2 142.1,369.2 142.4,367.7 142.8,365.1 143.1,360.7 143.4,353.2 143.8,340.7 144.4,301.4 158.4,301.4 158.7,302.4 159.7,324.4 160.4,335.1 161.1,343.4 161.7,349.8 162.4,354.9 163.1,358.8 164.1,363.2 164.7,365.3 165.4,367.0 166.0,368.4 167.0,370.1 168.0,372.3 168.4,372.9 168.7,373.2 169.0,373.3 169.4,373.3 169.7,373.1 170.4,372.5 170.7,372.1 171.0,371.4 171.4,370.4 172.7,364.8 173.0,363.8 174.0,361.5 174.4,361.0 174.7,360.8" fill="none" stroke="#1ee81e" stroke-width="1.2" stroke-linejoin="round" clip-path="url(#cIC)"/>
<path d="M62.9,377.7 69.6,377.7 69.9,377.6 70.2,376.9 70.6,375.8 71.9,369.2 73.2,358.3 73.5,356.5 73.9,355.6 74.5,354.5 76.2,352.5 76.9,351.4 77.9,349.1 80.2,342.9 81.2,340.5 84.2,334.2 85.5,331.8 86.5,330.2 89.2,326.4 90.2,325.1 91.2,324.0 93.8,321.5 94.8,320.7 95.8,320.0 96.8,319.7 98.2,319.7 99.8,319.8 102.2,320.2 102.8,320.4 103.8,321.0 104.8,321.7 107.8,324.6 109.2,326.2 110.5,328.0 112.1,330.5 113.1,332.3 114.8,335.8 121.1,350.5 122.5,352.9 124.5,355.7 127.5,359.2 128.8,360.6 129.8,361.3 131.4,362.2 132.1,362.4 132.4,362.4 132.8,362.3 133.4,361.8 134.4,360.8 134.8,360.6 135.1,360.5 135.8,360.6 136.8,361.2 137.4,361.7 137.8,362.2 139.8,366.4 140.4,367.5 140.8,367.9 141.1,368.1 141.4,367.8 141.8,366.8 142.1,364.7 142.4,361.1 142.8,355.2 143.1,346.2 143.4,332.6 143.8,313.1 144.1,301.4 158.4,301.4 159.7,327.4 160.7,340.9 161.4,347.6 162.4,355.1 163.1,358.8 164.1,363.0 164.7,365.1 165.4,366.8 166.0,368.1 167.0,369.9 168.0,372.1 168.4,372.7 168.7,373.0 169.0,373.2 169.4,373.1 169.7,373.0 170.4,372.3 170.7,372.0 171.0,371.3 171.4,370.2 172.7,364.8 173.0,363.7 174.0,361.4 174.4,361.0 174.7,360.8" fill="none" stroke="#ff4040" stroke-width="1.0" stroke-linejoin="round" stroke-dasharray="2.5 1.2 1 1.2" clip-path="url(#cIC)"/>
<rect x="408.4" y="284.8" width="268" height="187.4" fill="none" stroke="#a4a4a4" stroke-width="1.05"/>
<line x1="408.4" y1="472.2" x2="408.4" y2="475.7" stroke="#a8a8a8" stroke-width="1"/>
<text x="408.4" y="491.5" font-size="13.8" text-anchor="middle" fill="#111" stroke="#111" stroke-width="0.15">10</text>
<line x1="446.69" y1="472.2" x2="446.69" y2="475.7" stroke="#a8a8a8" stroke-width="1"/>
<text x="446.69" y="491.5" font-size="13.8" text-anchor="middle" fill="#111" stroke="#111" stroke-width="0.15">12</text>
<line x1="484.97" y1="472.2" x2="484.97" y2="475.7" stroke="#a8a8a8" stroke-width="1"/>
<text x="484.97" y="491.5" font-size="13.8" text-anchor="middle" fill="#111" stroke="#111" stroke-width="0.15">14</text>
<line x1="523.26" y1="472.2" x2="523.26" y2="475.7" stroke="#a8a8a8" stroke-width="1"/>
<text x="523.26" y="491.5" font-size="13.8" text-anchor="middle" fill="#111" stroke="#111" stroke-width="0.15">16</text>
<line x1="561.54" y1="472.2" x2="561.54" y2="475.7" stroke="#a8a8a8" stroke-width="1"/>
<text x="561.54" y="491.5" font-size="13.8" text-anchor="middle" fill="#111" stroke="#111" stroke-width="0.15">18</text>
<line x1="599.83" y1="472.2" x2="599.83" y2="475.7" stroke="#a8a8a8" stroke-width="1"/>
<text x="599.83" y="491.5" font-size="13.8" text-anchor="middle" fill="#111" stroke="#111" stroke-width="0.15">20</text>
<line x1="638.11" y1="472.2" x2="638.11" y2="475.7" stroke="#a8a8a8" stroke-width="1"/>
<text x="638.11" y="491.5" font-size="13.8" text-anchor="middle" fill="#111" stroke="#111" stroke-width="0.15">22</text>
<line x1="676.4" y1="472.2" x2="676.4" y2="475.7" stroke="#a8a8a8" stroke-width="1"/>
<text x="676.4" y="491.5" font-size="13.8" text-anchor="middle" fill="#111" stroke="#111" stroke-width="0.15">24</text>
<line x1="404.9" y1="472.2" x2="408.4" y2="472.2" stroke="#a8a8a8" stroke-width="1"/>
<text x="403.1" y="477.8" font-size="13.8" text-anchor="end" fill="#111" stroke="#111" stroke-width="0.15" textLength="26.6" lengthAdjust="spacingAndGlyphs">-0.2</text>
<line x1="404.9" y1="430.56" x2="408.4" y2="430.56" stroke="#a8a8a8" stroke-width="1"/>
<text x="403.1" y="436.16" font-size="13.8" text-anchor="end" fill="#111" stroke="#111" stroke-width="0.15" textLength="20.6" lengthAdjust="spacingAndGlyphs">0.0</text>
<line x1="404.9" y1="388.91" x2="408.4" y2="388.91" stroke="#a8a8a8" stroke-width="1"/>
<text x="403.1" y="394.51" font-size="13.8" text-anchor="end" fill="#111" stroke="#111" stroke-width="0.15" textLength="20.6" lengthAdjust="spacingAndGlyphs">0.2</text>
<line x1="404.9" y1="347.27" x2="408.4" y2="347.27" stroke="#a8a8a8" stroke-width="1"/>
<text x="403.1" y="352.87" font-size="13.8" text-anchor="end" fill="#111" stroke="#111" stroke-width="0.15" textLength="20.6" lengthAdjust="spacingAndGlyphs">0.4</text>
<line x1="404.9" y1="305.62" x2="408.4" y2="305.62" stroke="#a8a8a8" stroke-width="1"/>
<text x="403.1" y="311.22" font-size="13.8" text-anchor="end" fill="#111" stroke="#111" stroke-width="0.15" textLength="20.6" lengthAdjust="spacingAndGlyphs">0.6</text>
<text x="542.4" y="506.8" font-size="11.5" text-anchor="middle" fill="#111" stroke="#111" stroke-width="0.35" font-weight="bold" textLength="67.5" lengthAdjust="spacingAndGlyphs">time [min]</text>
<text x="369" y="379.1" font-size="12.8" text-anchor="middle" fill="#111" stroke="#111" stroke-width="0.35" font-weight="bold" textLength="174" lengthAdjust="spacingAndGlyphs" transform="rotate(-90 369 379.1)">CCVJ fluorescence [a.u.]</text>
<text x="358.1" y="273.3" font-size="21.5" text-anchor="start" fill="#111" textLength="36.2" lengthAdjust="spacingAndGlyphs">(D)</text>
<line x1="408.9" y1="472.2" x2="675.9" y2="472.2" stroke="#b4b4dc" stroke-width="1.3"/>
<path d="M408.4,431.8 409.1,429.8 409.7,429.4 410.4,428.7 411.0,431.0 411.7,432.5 412.3,434.0 413.0,427.1 413.6,434.3 414.3,429.6 414.9,430.6 415.6,429.6 416.2,429.2 416.9,428.4 417.5,431.7 418.2,430.7 418.8,436.2 419.5,431.7 420.1,433.9 420.8,432.3 421.4,429.2 422.1,431.9 422.7,429.7 423.4,432.8 424.0,431.5 424.7,433.4 425.3,438.4 426.0,434.2 426.6,433.2 427.3,432.3 427.9,432.6 428.6,432.8 429.2,430.3 429.9,430.8 430.5,433.0 431.2,429.8 431.8,436.1 432.5,431.9 433.1,431.3 433.8,427.6 434.4,431.4 435.1,433.1 435.7,428.7 436.4,424.4 437.0,428.0 437.7,426.9 438.3,426.2 439.0,424.6 439.6,420.8 440.3,418.3 440.9,420.7 441.6,421.1 442.2,415.7 442.9,418.8 443.5,418.0 444.2,418.0 444.8,417.0 445.5,414.8 446.1,415.0 446.8,412.5 447.4,412.2 448.1,410.2 448.7,411.3 449.4,409.9 450.0,407.9 450.7,407.3 451.3,406.1 452.0,402.6 452.6,406.7 453.3,407.6 453.9,400.4 454.6,401.5 455.2,396.8 455.9,398.9 456.5,400.2 457.2,391.4 457.8,394.3 458.5,395.0 459.1,394.5 459.8,390.2 460.4,391.8 461.1,388.0 461.7,384.8 462.4,389.2 463.0,385.3 463.7,381.8 464.3,377.5 465.0,377.6 465.6,379.2 466.3,373.3 466.9,376.0 467.6,374.1 468.2,371.5 468.9,373.7 469.5,363.0 470.2,366.3 470.8,367.6 471.5,368.6 472.1,369.1 472.8,364.8 473.4,363.3 474.1,365.1 474.7,363.9 475.4,361.5 476.1,362.3 476.7,365.8 477.4,359.4 478.0,359.8 478.7,358.1 479.3,360.9 480.0,363.5 480.6,361.0 481.3,356.9 481.9,352.3 482.6,351.1 483.2,355.3 483.9,358.8 484.5,355.7 485.2,353.3 485.8,352.8 486.5,353.1 487.1,349.8 487.8,354.4 488.4,356.9 489.1,353.6 489.7,353.9 490.4,345.8 491.0,351.1 491.7,353.7 492.3,348.8 493.0,347.7 493.6,349.7 494.3,349.2 494.9,347.1 495.6,348.1 496.2,350.7 496.9,347.7 497.5,346.8 498.2,348.1 498.8,346.9 499.5,347.6 500.1,349.5 500.8,349.4 501.4,347.8 502.1,350.5 502.7,346.8 503.4,346.8 504.0,354.4 504.7,350.0 505.3,351.8 506.0,351.7 506.6,350.1 507.3,351.0 507.9,349.5 508.6,350.3 509.2,350.4 509.9,353.4 510.5,352.7 511.2,349.0 511.8,358.4 512.5,349.2 513.1,354.9 513.8,351.4 514.4,360.6 515.1,356.1 515.7,353.8 516.4,356.0 517.0,354.8 517.7,360.0 518.3,360.2 519.0,361.3 519.6,359.7 520.3,360.8 520.9,363.1 521.6,364.4 522.2,365.4 522.9,365.4 523.5,368.5 524.2,367.2 524.8,368.0 525.5,369.6 526.1,370.3 526.8,366.2 527.4,371.6 528.1,369.9 528.7,368.3 529.4,370.4 530.0,372.6 530.7,371.0 531.3,377.2 532.0,377.5 532.6,376.3 533.3,376.6 533.9,377.0 534.6,373.2 535.2,374.4 535.9,379.0 536.5,379.1 537.2,382.5 537.8,380.5 538.5,385.1 539.1,379.6 539.8,384.8 540.4,383.1 541.1,388.2 541.7,382.9 542.4,385.6 543.1,383.4 543.7,388.6 544.4,393.4 545.0,392.4 545.7,394.4 546.3,388.8 547.0,394.7 547.6,395.9 548.3,393.7 548.9,395.2 549.6,395.5 550.2,398.6 550.9,402.7 551.5,402.0 552.2,404.7 552.8,397.4 553.5,399.0 554.1,402.6 554.8,401.0 555.4,401.6 556.1,402.4 556.7,403.2 557.4,403.1 558.0,405.5 558.7,411.3 559.3,413.1 560.0,404.4 560.6,406.4 561.3,414.0 561.9,408.3 562.6,411.2 563.2,410.8 563.9,415.9 564.5,408.6 565.2,410.9 565.8,409.2 566.5,409.0 567.1,408.9 567.8,408.4 568.4,411.9 569.1,412.4 569.7,414.7 570.4,412.4 571.0,414.5 571.7,417.0 572.3,411.9 573.0,413.4 573.6,421.5 574.3,420.0 574.9,416.6 575.6,419.5 576.2,413.9 576.9,416.6 577.5,416.1 578.2,415.5 578.8,414.9 579.5,418.9 580.1,417.2 580.8,418.3 581.4,417.4 582.1,418.2 582.7,416.5 583.4,418.9 584.0,421.5 584.7,420.4 585.3,423.6 586.0,420.5 586.6,418.0 587.3,423.2 587.9,425.8 588.6,422.5 589.2,423.7 589.9,422.7 590.5,424.3 591.2,422.9 591.8,425.6 592.5,419.8 593.1,424.1 593.8,422.5 594.4,422.1 595.1,424.4 595.7,423.2 596.4,424.9 597.0,425.5 597.7,425.1 598.3,423.6 599.0,427.7 599.6,426.9 600.3,426.7 600.9,426.2 601.6,422.1 602.2,424.4 602.9,424.1 603.5,421.9 604.2,418.4 604.8,420.8 605.5,414.9 606.1,420.7 606.8,415.3 607.4,407.8 608.1,405.6 608.7,406.8 609.4,406.5 610.1,401.7 610.7,402.2 611.4,395.2 612.0,393.6 612.7,392.1 613.3,393.8 614.0,387.9 614.6,389.7 615.3,389.4 615.9,390.2 616.6,390.3 617.2,390.1 617.9,390.9 618.5,392.7 619.2,388.8 619.8,399.4 620.5,397.9 621.1,404.2 621.8,405.7 622.4,411.0 623.1,408.8 623.7,414.2 624.4,417.4 625.0,420.3 625.7,419.5 626.3,423.9 627.0,422.8 627.6,418.8 628.3,425.8 628.9,427.7 629.6,429.3 630.2,425.8 630.9,428.1 631.5,430.5 632.2,431.1 632.8,429.4 633.5,432.1 634.1,425.2 634.8,430.7 635.4,430.8 636.1,430.8 636.7,434.9 637.4,434.2 638.0,431.8 638.7,431.2 639.3,434.1 640.0,427.5 640.6,430.4 641.3,428.6 641.9,429.0 642.6,432.3 643.2,426.2 643.9,431.6 644.5,436.3 645.2,437.4 645.8,432.1 646.5,430.2 647.1,432.1 647.8,428.4 648.4,433.2 649.1,431.3 649.7,431.0 650.4,435.1 651.0,432.1 651.7,432.1 652.3,430.6 653.0,430.4 653.6,431.1 654.3,435.2 654.9,431.9 655.6,431.2 656.2,433.8 656.9,432.2 657.5,432.3 658.2,431.5 658.8,434.2 659.5,433.4 660.1,434.2 660.8,434.6 661.4,436.3 662.1,435.8 662.7,437.8 663.4,435.8 664.0,433.9 664.7,434.2 665.3,434.0 666.0,436.2 666.6,432.9 667.3,437.2 667.9,434.6 668.6,435.5 669.2,438.3 669.9,438.4 670.5,435.2 671.2,437.0 671.8,436.6 672.5,430.3 673.1,436.2 673.8,437.4 674.4,436.1 675.1,439.4 675.7,438.5 676.4,437.3" fill="none" stroke="#ff1a1a" stroke-width="0.95" stroke-linejoin="round" clip-path="url(#cD)"/>
<path d="M408.4,439.7 409.1,437.7 409.7,438.1 410.4,437.4 411.0,442.0 411.7,433.2 412.3,437.8 413.0,436.2 413.6,440.1 414.3,440.8 414.9,437.4 415.6,438.3 416.2,435.8 416.9,439.7 417.5,439.8 418.2,436.4 418.8,435.5 419.5,434.8 420.1,437.2 420.8,436.3 421.4,438.9 422.1,433.6 422.7,433.9 423.4,433.9 424.0,440.5 424.7,434.0 425.3,437.4 426.0,433.5 426.6,432.6 427.3,429.6 427.9,431.9 428.6,431.1 429.2,431.2 429.9,429.6 430.5,422.9 431.2,424.2 431.8,418.0 432.5,418.6 433.1,417.5 433.8,412.7 434.4,412.0 435.1,415.7 435.7,412.9 436.4,411.8 437.0,409.5 437.7,412.4 438.3,411.1 439.0,409.9 439.6,407.5 440.3,406.7 440.9,409.9 441.6,403.9 442.2,406.9 442.9,409.7 443.5,411.4 444.2,408.5 444.8,413.0 445.5,406.4 446.1,405.3 446.8,403.3 447.4,405.0 448.1,410.3 448.7,406.5 449.4,403.9 450.0,410.8 450.7,407.3 451.3,403.5 452.0,404.7 452.6,409.7 453.3,405.8 453.9,404.3 454.6,399.0 455.2,405.2 455.9,406.2 456.5,403.3 457.2,403.0 457.8,402.4 458.5,400.2 459.1,403.9 459.8,407.2 460.4,403.7 461.1,403.7 461.7,401.4 462.4,401.7 463.0,405.6 463.7,401.9 464.3,401.3 465.0,404.2 465.6,401.4 466.3,403.4 466.9,403.3 467.6,404.1 468.2,401.8 468.9,396.6 469.5,403.2 470.2,406.7 470.8,404.3 471.5,405.2 472.1,403.0 472.8,404.1 473.4,397.5 474.1,402.0 474.7,399.2 475.4,405.7 476.1,404.6 476.7,399.0 477.4,408.4 478.0,404.0 478.7,408.3 479.3,400.8 480.0,408.3 480.6,405.6 481.3,405.4 481.9,409.3 482.6,399.1 483.2,405.8 483.9,401.3 484.5,407.2 485.2,409.2 485.8,405.1 486.5,405.2 487.1,398.4 487.8,408.2 488.4,409.4 489.1,407.2 489.7,404.5 490.4,403.7 491.0,406.8 491.7,405.5 492.3,403.1 493.0,401.5 493.6,405.5 494.3,403.4 494.9,410.5 495.6,405.8 496.2,402.1 496.9,403.1 497.5,403.4 498.2,398.8 498.8,403.5 499.5,405.5 500.1,402.3 500.8,402.4 501.4,405.9 502.1,400.8 502.7,399.2 503.4,405.2 504.0,406.2 504.7,404.5 505.3,401.4 506.0,406.3 506.6,407.0 507.3,406.9 507.9,405.1 508.6,405.5 509.2,406.9 509.9,403.9 510.5,401.7 511.2,409.2 511.8,405.7 512.5,408.1 513.1,401.8 513.8,412.0 514.4,411.2 515.1,410.6 515.7,415.0 516.4,412.4 517.0,410.6 517.7,416.5 518.3,413.0 519.0,409.3 519.6,415.6 520.3,416.7 520.9,421.2 521.6,415.5 522.2,419.6 522.9,414.5 523.5,412.1 524.2,415.1 524.8,418.8 525.5,415.5 526.1,418.6 526.8,420.6 527.4,419.3 528.1,417.7 528.7,419.5 529.4,417.6 530.0,413.9 530.7,418.0 531.3,418.0 532.0,421.9 532.6,417.2 533.3,420.0 533.9,418.7 534.6,423.6 535.2,421.4 535.9,428.3 536.5,423.7 537.2,425.3 537.8,426.0 538.5,419.6 539.1,428.1 539.8,425.0 540.4,425.3 541.1,423.9 541.7,423.0 542.4,429.8 543.1,427.4 543.7,428.0 544.4,424.7 545.0,424.3 545.7,427.9 546.3,428.4 547.0,429.7 547.6,426.4 548.3,423.3 548.9,426.7 549.6,429.6 550.2,430.1 550.9,429.9 551.5,432.4 552.2,424.0 552.8,428.3 553.5,429.4 554.1,423.1 554.8,428.2 555.4,425.2 556.1,428.3 556.7,426.3 557.4,429.0 558.0,430.1 558.7,428.3 559.3,427.6 560.0,426.7 560.6,429.0 561.3,430.2 561.9,430.6 562.6,428.9 563.2,431.0 563.9,430.7 564.5,428.6 565.2,428.5 565.8,428.8 566.5,432.0 567.1,433.8 567.8,429.6 568.4,430.0 569.1,431.3 569.7,429.9 570.4,428.4 571.0,431.1 571.7,429.6 572.3,433.1 573.0,431.3 573.6,432.8 574.3,434.4 574.9,429.8 575.6,438.0 576.2,431.1 576.9,429.1 577.5,430.1 578.2,435.0 578.8,430.5 579.5,435.8 580.1,433.4 580.8,427.7 581.4,430.9 582.1,428.4 582.7,434.1 583.4,436.6 584.0,433.3 584.7,428.2 585.3,429.2 586.0,428.8 586.6,431.9 587.3,431.7 587.9,432.0 588.6,424.3 589.2,431.3 589.9,427.2 590.5,432.0 591.2,428.1 591.8,434.3 592.5,432.8 593.1,430.7 593.8,433.0 594.4,432.5 595.1,431.9 595.7,432.8 596.4,427.5 597.0,428.5 597.7,434.7 598.3,426.8 599.0,431.1 599.6,431.0 600.3,431.2 600.9,428.5 601.6,428.8 602.2,431.4 602.9,428.7 603.5,430.1 604.2,419.5 604.8,423.2 605.5,419.7 606.1,415.5 606.8,409.4 607.4,403.9 608.1,402.8 608.7,398.3 609.4,395.9 610.1,388.5 610.7,387.3 611.4,388.1 612.0,376.1 612.7,375.2 613.3,367.9 614.0,371.6 614.6,369.7 615.3,368.5 615.9,372.3 616.6,371.5 617.2,370.0 617.9,374.5 618.5,385.8 619.2,380.3 619.8,386.4 620.5,388.8 621.1,394.0 621.8,397.1 622.4,401.2 623.1,405.1 623.7,411.6 624.4,409.9 625.0,415.0 625.7,417.0 626.3,419.0 627.0,422.5 627.6,423.6 628.3,428.5 628.9,426.1 629.6,427.5 630.2,430.2 630.9,435.1 631.5,428.5 632.2,433.1 632.8,433.5 633.5,434.7 634.1,435.8 634.8,435.6 635.4,437.7 636.1,436.6 636.7,430.3 637.4,432.7 638.0,430.9 638.7,437.7 639.3,441.1 640.0,440.0 640.6,443.4 641.3,434.2 641.9,434.1 642.6,437.0 643.2,436.5 643.9,436.7 644.5,438.0 645.2,436.0 645.8,440.5 646.5,439.1 647.1,438.5 647.8,442.4 648.4,440.8 649.1,437.2 649.7,437.5 650.4,444.5 651.0,436.1 651.7,437.5 652.3,436.5 653.0,438.5 653.6,436.9 654.3,441.6 654.9,438.9 655.6,441.0 656.2,439.7 656.9,435.4 657.5,434.3 658.2,438.3 658.8,439.5 659.5,436.4 660.1,437.2 660.8,433.6 661.4,436.8 662.1,444.2 662.7,438.2 663.4,439.2 664.0,440.4 664.7,438.0 665.3,438.2 666.0,439.3 666.6,434.6 667.3,437.4 667.9,437.4 668.6,438.0 669.2,435.3 669.9,441.2 670.5,435.4 671.2,439.0 671.8,434.7 672.5,434.8 673.1,437.1 673.8,439.5 674.4,437.7 675.1,437.5 675.7,442.0 676.4,439.2" fill="none" stroke="#10e010" stroke-width="0.95" stroke-linejoin="round" clip-path="url(#cD)"/>
<path d="M408.4,432.3 409.1,426.7 409.7,425.8 410.4,432.4 411.0,431.8 411.7,434.0 412.3,429.7 413.0,428.2 413.6,425.5 414.3,433.8 414.9,427.7 415.6,430.6 416.2,432.1 416.9,431.0 417.5,432.1 418.2,428.7 418.8,429.9 419.5,426.6 420.1,431.1 420.8,434.6 421.4,432.2 422.1,428.4 422.7,432.9 423.4,430.2 424.0,425.8 424.7,429.8 425.3,422.5 426.0,422.5 426.6,423.7 427.3,420.5 427.9,419.6 428.6,416.9 429.2,414.2 429.9,411.0 430.5,409.3 431.2,409.8 431.8,409.8 432.5,401.0 433.1,409.1 433.8,406.1 434.4,402.0 435.1,402.3 435.7,406.6 436.4,399.1 437.0,399.7 437.7,405.3 438.3,407.8 439.0,402.8 439.6,405.1 440.3,405.5 440.9,406.9 441.6,406.5 442.2,404.5 442.9,402.7 443.5,410.8 444.2,411.8 444.8,402.9 445.5,408.0 446.1,404.2 446.8,406.2 447.4,403.6 448.1,405.1 448.7,408.8 449.4,409.1 450.0,408.4 450.7,407.8 451.3,412.1 452.0,415.2 452.6,411.6 453.3,412.7 453.9,413.7 454.6,416.7 455.2,413.0 455.9,419.9 456.5,417.0 457.2,412.6 457.8,419.5 458.5,415.8 459.1,416.1 459.8,416.5 460.4,422.5 461.1,415.5 461.7,418.2 462.4,417.5 463.0,418.3 463.7,419.3 464.3,416.4 465.0,416.1 465.6,425.2 466.3,422.6 466.9,421.2 467.6,426.9 468.2,417.3 468.9,423.6 469.5,420.2 470.2,421.4 470.8,422.8 471.5,425.2 472.1,423.7 472.8,422.7 473.4,421.0 474.1,423.9 474.7,424.6 475.4,424.4 476.1,420.4 476.7,423.3 477.4,426.0 478.0,427.8 478.7,425.7 479.3,427.2 480.0,426.0 480.6,421.3 481.3,423.3 481.9,424.7 482.6,424.4 483.2,420.9 483.9,428.8 484.5,424.6 485.2,426.5 485.8,425.7 486.5,426.0 487.1,427.2 487.8,425.0 488.4,432.4 489.1,425.9 489.7,424.9 490.4,429.4 491.0,429.5 491.7,421.8 492.3,429.5 493.0,428.2 493.6,429.3 494.3,428.9 494.9,429.2 495.6,433.1 496.2,421.1 496.9,429.5 497.5,426.6 498.2,427.9 498.8,424.1 499.5,426.0 500.1,424.8 500.8,424.8 501.4,425.7 502.1,428.0 502.7,425.7 503.4,432.4 504.0,425.8 504.7,426.4 505.3,427.5 506.0,431.9 506.6,424.8 507.3,430.2 507.9,426.7 508.6,433.4 509.2,429.0 509.9,430.2 510.5,430.6 511.2,430.4 511.8,423.8 512.5,428.7 513.1,427.7 513.8,422.9 514.4,432.5 515.1,424.6 515.7,429.7 516.4,430.5 517.0,429.9 517.7,433.7 518.3,433.0 519.0,431.9 519.6,430.4 520.3,427.0 520.9,426.0 521.6,429.9 522.2,428.0 522.9,427.8 523.5,429.6 524.2,428.4 524.8,430.6 525.5,427.5 526.1,429.7 526.8,429.0 527.4,428.4 528.1,428.7 528.7,431.1 529.4,432.8 530.0,429.3 530.7,430.7 531.3,430.6 532.0,429.5 532.6,431.1 533.3,428.0 533.9,428.2 534.6,431.7 535.2,428.3 535.9,431.9 536.5,427.4 537.2,427.7 537.8,429.4 538.5,427.0 539.1,426.6 539.8,428.2 540.4,434.4 541.1,429.1 541.7,428.9 542.4,427.3 543.1,432.1 543.7,427.6 544.4,428.6 545.0,428.4 545.7,432.9 546.3,431.9 547.0,426.6 547.6,427.4 548.3,429.9 548.9,426.7 549.6,429.0 550.2,430.8 550.9,434.0 551.5,427.0 552.2,430.1 552.8,429.1 553.5,434.6 554.1,431.3 554.8,429.0 555.4,430.5 556.1,431.9 556.7,432.9 557.4,429.4 558.0,430.9 558.7,430.9 559.3,430.8 560.0,431.7 560.6,430.9 561.3,431.7 561.9,430.0 562.6,433.8 563.2,433.0 563.9,430.0 564.5,430.6 565.2,429.7 565.8,424.8 566.5,428.2 567.1,427.2 567.8,429.1 568.4,430.5 569.1,432.4 569.7,435.2 570.4,434.1 571.0,436.6 571.7,433.3 572.3,434.6 573.0,432.9 573.6,430.4 574.3,431.5 574.9,428.0 575.6,428.0 576.2,427.7 576.9,428.1 577.5,429.7 578.2,431.8 578.8,429.2 579.5,431.1 580.1,431.0 580.8,429.4 581.4,433.4 582.1,434.9 582.7,429.6 583.4,425.7 584.0,427.5 584.7,420.4 585.3,434.3 586.0,432.3 586.6,436.7 587.3,432.9 587.9,425.5 588.6,426.2 589.2,433.3 589.9,431.4 590.5,432.8 591.2,434.2 591.8,431.2 592.5,431.4 593.1,430.3 593.8,429.8 594.4,428.6 595.1,426.7 595.7,430.5 596.4,430.7 597.0,430.0 597.7,428.7 598.3,430.0 599.0,432.1 599.6,430.7 600.3,427.1 600.9,431.6 601.6,426.4 602.2,431.7 602.9,424.9 603.5,422.8 604.2,422.1 604.8,418.3 605.5,415.1 606.1,406.0 606.8,407.6 607.4,404.2 608.1,397.2 608.7,391.5 609.4,390.1 610.1,387.8 610.7,380.6 611.4,381.1 612.0,376.9 612.7,374.1 613.3,364.0 614.0,370.4 614.6,366.2 615.3,361.6 615.9,362.0 616.6,360.2 617.2,366.3 617.9,371.9 618.5,370.5 619.2,375.0 619.8,378.4 620.5,382.0 621.1,386.4 621.8,394.7 622.4,396.7 623.1,391.7 623.7,399.9 624.4,407.7 625.0,405.3 625.7,405.1 626.3,408.6 627.0,411.6 627.6,419.8 628.3,415.4 628.9,417.8 629.6,414.7 630.2,420.8 630.9,422.4 631.5,424.7 632.2,425.0 632.8,424.8 633.5,427.5 634.1,428.9 634.8,430.1 635.4,426.7 636.1,428.3 636.7,428.4 637.4,431.8 638.0,430.1 638.7,433.2 639.3,425.7 640.0,425.2 640.6,427.3 641.3,428.8 641.9,427.3 642.6,432.5 643.2,432.0 643.9,425.3 644.5,431.2 645.2,428.5 645.8,430.2 646.5,434.9 647.1,430.1 647.8,426.0 648.4,424.6 649.1,434.8 649.7,432.2 650.4,429.5 651.0,425.2 651.7,424.5 652.3,423.4 653.0,423.1 653.6,428.6 654.3,430.0 654.9,424.8 655.6,427.8 656.2,427.0 656.9,427.9 657.5,427.9 658.2,424.3 658.8,429.3 659.5,431.2 660.1,428.3 660.8,426.0 661.4,427.0 662.1,426.5 662.7,431.3 663.4,428.3 664.0,422.9 664.7,426.1 665.3,427.4 666.0,422.4 666.6,426.8 667.3,423.2 667.9,424.5 668.6,423.9 669.2,422.0 669.9,418.6 670.5,421.1 671.2,426.7 671.8,427.2 672.5,425.0 673.1,424.4 673.8,421.9 674.4,423.6 675.1,423.0 675.7,427.9 676.4,423.3" fill="none" stroke="#1a1aa0" stroke-width="0.95" stroke-linejoin="round" clip-path="url(#cD)"/>
<path d="M408.4,426.0 409.1,422.6 409.7,425.3 410.4,427.3 411.0,431.0 411.7,427.6 412.3,427.5 413.0,428.0 413.6,427.1 414.3,426.1 414.9,426.3 415.6,421.1 416.2,430.4 416.9,432.1 417.5,426.4 418.2,431.1 418.8,428.2 419.5,427.8 420.1,429.9 420.8,425.3 421.4,425.7 422.1,427.2 422.7,425.8 423.4,425.1 424.0,428.5 424.7,425.9 425.3,427.2 426.0,427.6 426.6,428.9 427.3,422.5 427.9,426.7 428.6,431.7 429.2,426.2 429.9,435.0 430.5,426.8 431.2,425.3 431.8,423.4 432.5,426.9 433.1,429.5 433.8,421.8 434.4,424.4 435.1,423.6 435.7,428.1 436.4,425.5 437.0,432.4 437.7,425.8 438.3,433.3 439.0,430.1 439.6,431.4 440.3,423.7 440.9,424.3 441.6,428.7 442.2,423.3 442.9,426.6 443.5,432.6 444.2,427.9 444.8,431.7 445.5,426.5 446.1,425.6 446.8,428.7 447.4,424.2 448.1,423.4 448.7,429.0 449.4,424.7 450.0,426.6 450.7,427.1 451.3,421.3 452.0,428.1 452.6,427.1 453.3,426.1 453.9,424.2 454.6,423.5 455.2,428.4 455.9,421.6 456.5,420.2 457.2,419.6 457.8,424.9 458.5,426.8 459.1,428.4 459.8,424.2 460.4,425.4 461.1,425.3 461.7,426.9 462.4,431.4 463.0,425.8 463.7,425.4 464.3,426.0 465.0,429.0 465.6,425.7 466.3,425.3 466.9,428.2 467.6,423.1 468.2,425.1 468.9,424.7 469.5,424.0 470.2,426.0 470.8,425.6 471.5,423.9 472.1,423.4 472.8,423.1 473.4,426.4 474.1,423.8 474.7,422.8 475.4,430.4 476.1,427.7 476.7,426.7 477.4,426.8 478.0,421.7 478.7,423.7 479.3,427.7 480.0,427.8 480.6,431.7 481.3,430.6 481.9,424.0 482.6,433.0 483.2,426.3 483.9,430.3 484.5,429.2 485.2,428.7 485.8,423.2 486.5,427.6 487.1,427.1 487.8,425.7 488.4,435.1 489.1,423.3 489.7,433.6 490.4,430.9 491.0,426.8 491.7,432.4 492.3,434.0 493.0,425.5 493.6,429.9 494.3,426.3 494.9,427.6 495.6,429.7 496.2,424.2 496.9,429.9 497.5,423.3 498.2,431.8 498.8,432.2 499.5,431.3 500.1,428.6 500.8,432.7 501.4,431.4 502.1,425.2 502.7,428.9 503.4,426.1 504.0,428.4 504.7,431.3 505.3,431.8 506.0,429.1 506.6,429.4 507.3,431.2 507.9,431.3 508.6,425.5 509.2,426.7 509.9,428.9 510.5,430.8 511.2,431.1 511.8,424.0 512.5,431.6 513.1,423.2 513.8,431.9 514.4,434.3 515.1,424.1 515.7,430.3 516.4,425.6 517.0,428.8 517.7,430.8 518.3,427.4 519.0,431.0 519.6,428.9 520.3,430.6 520.9,435.3 521.6,429.1 522.2,431.8 522.9,430.7 523.5,429.1 524.2,434.4 524.8,428.8 525.5,428.7 526.1,424.8 526.8,428.0 527.4,429.4 528.1,432.3 528.7,430.5 529.4,434.5 530.0,429.3 530.7,431.1 531.3,431.5 532.0,430.5 532.6,429.2 533.3,429.8 533.9,434.0 534.6,426.7 535.2,430.5 535.9,429.6 536.5,430.6 537.2,433.3 537.8,429.8 538.5,431.7 539.1,433.1 539.8,430.3 540.4,428.4 541.1,428.9 541.7,430.1 542.4,432.4 543.1,431.6 543.7,431.0 544.4,434.7 545.0,428.3 545.7,430.4 546.3,434.3 547.0,426.3 547.6,425.0 548.3,434.4 548.9,431.1 549.6,433.0 550.2,428.4 550.9,434.6 551.5,429.2 552.2,429.5 552.8,427.4 553.5,436.1 554.1,432.9 554.8,431.2 555.4,427.9 556.1,430.4 556.7,428.5 557.4,429.3 558.0,433.2 558.7,431.0 559.3,431.8 560.0,431.6 560.6,433.3 561.3,428.5 561.9,429.8 562.6,436.2 563.2,428.5 563.9,432.3 564.5,434.9 565.2,427.2 565.8,430.7 566.5,429.6 567.1,431.1 567.8,430.8 568.4,435.9 569.1,428.5 569.7,432.8 570.4,430.6 571.0,430.9 571.7,433.5 572.3,434.3 573.0,431.1 573.6,427.0 574.3,432.6 574.9,432.4 575.6,430.4 576.2,432.3 576.9,426.9 577.5,429.3 578.2,423.4 578.8,430.0 579.5,424.2 580.1,432.3 580.8,430.0 581.4,433.7 582.1,431.7 582.7,431.5 583.4,428.8 584.0,426.7 584.7,431.4 585.3,434.8 586.0,430.6 586.6,431.1 587.3,432.0 587.9,428.1 588.6,427.3 589.2,432.6 589.9,432.6 590.5,438.1 591.2,432.4 591.8,428.1 592.5,433.2 593.1,427.9 593.8,428.5 594.4,428.6 595.1,428.5 595.7,430.4 596.4,427.1 597.0,426.9 597.7,428.8 598.3,429.7 599.0,425.6 599.6,424.8 600.3,430.8 600.9,426.3 601.6,428.2 602.2,421.1 602.9,427.3 603.5,426.0 604.2,424.0 604.8,415.4 605.5,417.3 606.1,408.4 606.8,407.6 607.4,398.1 608.1,393.4 608.7,390.9 609.4,396.5 610.1,391.6 610.7,391.3 611.4,371.7 612.0,376.9 612.7,372.5 613.3,367.8 614.0,363.5 614.6,364.6 615.3,363.0 615.9,364.0 616.6,369.6 617.2,363.2 617.9,366.7 618.5,375.4 619.2,379.7 619.8,377.6 620.5,379.6 621.1,389.7 621.8,391.3 622.4,397.7 623.1,399.0 623.7,410.8 624.4,413.0 625.0,408.0 625.7,412.2 626.3,412.4 627.0,415.3 627.6,415.7 628.3,418.5 628.9,421.6 629.6,421.5 630.2,426.3 630.9,421.7 631.5,430.0 632.2,429.5 632.8,426.8 633.5,431.4 634.1,428.3 634.8,427.4 635.4,429.8 636.1,433.7 636.7,427.1 637.4,431.6 638.0,436.0 638.7,427.6 639.3,433.2 640.0,432.1 640.6,431.5 641.3,435.8 641.9,431.9 642.6,438.3 643.2,437.7 643.9,436.2 644.5,428.8 645.2,433.5 645.8,432.0 646.5,436.8 647.1,434.1 647.8,441.9 648.4,436.6 649.1,434.7 649.7,437.7 650.4,442.0 651.0,441.1 651.7,434.5 652.3,432.6 653.0,437.7 653.6,432.1 654.3,440.6 654.9,435.1 655.6,436.2 656.2,434.1 656.9,441.6 657.5,434.4 658.2,437.1 658.8,440.1 659.5,439.0 660.1,438.4 660.8,437.0 661.4,440.5 662.1,440.6 662.7,437.9 663.4,438.4 664.0,436.9 664.7,435.8 665.3,443.9 666.0,438.9 666.6,438.0 667.3,438.6 667.9,442.0 668.6,436.8 669.2,434.0 669.9,439.6 670.5,441.4 671.2,436.9 671.8,439.2 672.5,438.9 673.1,438.6 673.8,440.7 674.4,439.4 675.1,441.5 675.7,445.2 676.4,436.4" fill="none" stroke="#111" stroke-width="0.95" stroke-linejoin="round" clip-path="url(#cD)"/>
<line x1="562.2" y1="294.8" x2="577" y2="294.8" stroke="#ff8080" stroke-width="0.9"/>
<text x="585.5" y="299.1" font-size="10.7" text-anchor="start" fill="#111" textLength="62.5" lengthAdjust="spacingAndGlyphs">10 min 70°C</text>
<line x1="562.2" y1="312.1" x2="577" y2="312.1" stroke="#60e060" stroke-width="0.9"/>
<text x="585.5" y="316.4" font-size="10.7" text-anchor="start" fill="#111" textLength="62.5" lengthAdjust="spacingAndGlyphs">10 min 65°C</text>
<line x1="562.2" y1="329.9" x2="577" y2="329.9" stroke="#9090e0" stroke-width="0.9"/>
<text x="585.5" y="334.2" font-size="10.7" text-anchor="start" fill="#111" textLength="62.5" lengthAdjust="spacingAndGlyphs">10 min 60°C</text>
<line x1="562.2" y1="347.6" x2="577" y2="347.6" stroke="#555577" stroke-width="0.9"/>
<text x="585.5" y="351.9" font-size="10.7" text-anchor="start" fill="#111" textLength="13.6" lengthAdjust="spacingAndGlyphs">NS</text>
<rect x="47.5" y="546.6" width="269.7" height="187.9" fill="none" stroke="#bdbdbd" stroke-width="1.4"/>
<line x1="47.5" y1="734.5" x2="47.5" y2="738" stroke="#a8a8a8" stroke-width="1"/>
<text x="47.5" y="753.8" font-size="13.8" text-anchor="middle" fill="#111" stroke="#111" stroke-width="0.15">0</text>
<line x1="86.03" y1="734.5" x2="86.03" y2="738" stroke="#a8a8a8" stroke-width="1"/>
<text x="86.03" y="753.8" font-size="13.8" text-anchor="middle" fill="#111" stroke="#111" stroke-width="0.15">5</text>
<line x1="124.56" y1="734.5" x2="124.56" y2="738" stroke="#a8a8a8" stroke-width="1"/>
<text x="124.56" y="753.8" font-size="13.8" text-anchor="middle" fill="#111" stroke="#111" stroke-width="0.15">10</text>
<line x1="163.09" y1="734.5" x2="163.09" y2="738" stroke="#a8a8a8" stroke-width="1"/>
<text x="163.09" y="753.8" font-size="13.8" text-anchor="middle" fill="#111" stroke="#111" stroke-width="0.15">15</text>
<line x1="201.61" y1="734.5" x2="201.61" y2="738" stroke="#a8a8a8" stroke-width="1"/>
<text x="201.61" y="753.8" font-size="13.8" text-anchor="middle" fill="#111" stroke="#111" stroke-width="0.15">20</text>
<line x1="240.14" y1="734.5" x2="240.14" y2="738" stroke="#a8a8a8" stroke-width="1"/>
<text x="240.14" y="753.8" font-size="13.8" text-anchor="middle" fill="#111" stroke="#111" stroke-width="0.15">25</text>
<line x1="278.67" y1="734.5" x2="278.67" y2="738" stroke="#a8a8a8" stroke-width="1"/>
<text x="278.67" y="753.8" font-size="13.8" text-anchor="middle" fill="#111" stroke="#111" stroke-width="0.15">30</text>
<line x1="317.2" y1="734.5" x2="317.2" y2="738" stroke="#a8a8a8" stroke-width="1"/>
<text x="317.2" y="753.8" font-size="13.8" text-anchor="middle" fill="#111" stroke="#111" stroke-width="0.15">35</text>
<line x1="44" y1="734.5" x2="47.5" y2="734.5" stroke="#a8a8a8" stroke-width="1"/>
<text x="41.9" y="740.1" font-size="13.8" text-anchor="end" fill="#111" stroke="#111" stroke-width="0.15">0</text>
<line x1="44" y1="680.81" x2="47.5" y2="680.81" stroke="#a8a8a8" stroke-width="1"/>
<text x="41.9" y="686.41" font-size="13.8" text-anchor="end" fill="#111" stroke="#111" stroke-width="0.15">200</text>
<line x1="44" y1="627.13" x2="47.5" y2="627.13" stroke="#a8a8a8" stroke-width="1"/>
<text x="41.9" y="632.73" font-size="13.8" text-anchor="end" fill="#111" stroke="#111" stroke-width="0.15">400</text>
<line x1="44" y1="573.44" x2="47.5" y2="573.44" stroke="#a8a8a8" stroke-width="1"/>
<text x="41.9" y="579.04" font-size="13.8" text-anchor="end" fill="#111" stroke="#111" stroke-width="0.15">600</text>
<text x="181.5" y="769.1" font-size="11.5" text-anchor="middle" fill="#111" stroke="#111" stroke-width="0.35" font-weight="bold" textLength="67.5" lengthAdjust="spacingAndGlyphs">time [min]</text>
<text x="11" y="640.55" font-size="12.8" text-anchor="middle" fill="#111" stroke="#111" stroke-width="0.35" font-weight="bold" textLength="127" lengthAdjust="spacingAndGlyphs" transform="rotate(-90 11 640.55)">UV signal 280 nm</text>
<text x="-0.8" y="533.9" font-size="21.5" text-anchor="start" fill="#111" textLength="32.0" lengthAdjust="spacingAndGlyphs">(E)</text>
<path d="M47.5,734.5 181.8,734.5 185.5,734.3 188.8,734.0 191.5,733.9 193.2,733.9 196.2,734.1 198.8,734.1 199.5,734.0 199.8,733.8 200.2,733.4 200.5,732.7 200.8,731.5 201.2,729.5 201.5,726.3 201.8,721.5 202.2,714.6 202.5,705.1 203.2,677.7 204.5,601.3 205.2,570.2 205.5,560.7 205.8,555.8 206.2,555.6 206.5,559.6 207.2,576.9 208.5,624.3 209.5,654.8 210.2,670.8 211.2,688.9 211.8,698.0 212.5,705.3 213.2,711.1 213.8,715.7 214.5,719.3 215.5,723.5 216.5,726.5 217.5,728.6 218.2,729.7 219.2,730.9 220.2,731.8 221.5,732.7 222.8,733.2 224.2,733.6 226.2,733.9 228.5,734.2 229.8,734.2 232.5,734.1 239.8,734.4 251.2,734.5 309.5,734.5" fill="none" stroke="#333" stroke-width="1.5" stroke-linejoin="round" clip-path="url(#cE)"/>
<path d="M47.5,734.5 163.2,734.5 167.2,734.1 177.2,733.4 185.2,733.1 188.2,733.3 191.5,732.9 192.8,733.0 196.8,733.8 198.2,733.9 198.8,733.9 199.5,733.7 199.8,733.5 200.2,733.1 200.5,732.5 200.8,731.3 201.2,729.3 201.5,726.2 201.8,721.4 202.2,714.5 202.5,705.0 203.2,677.3 204.5,599.4 205.2,567.3 205.5,557.4 205.8,552.3 206.2,552.2 206.5,556.3 207.2,574.5 208.5,624.4 209.5,656.2 210.2,672.7 211.2,691.1 212.2,704.0 212.8,710.4 213.5,715.4 214.2,719.3 215.2,723.7 216.2,726.7 217.2,728.8 217.8,729.9 218.8,731.1 219.8,732.0 221.2,732.8 222.5,733.3 223.8,733.7 225.8,734.0 228.2,734.2 229.8,734.3 232.5,734.1 239.8,734.4 251.5,734.5 309.5,734.5" fill="none" stroke="#1ee81e" stroke-width="1.6" stroke-linejoin="round" clip-path="url(#cE)"/>
<path d="M47.5,734.5 135.5,734.5 136.8,734.4 139.5,733.9 141.8,733.0 145.5,731.1 151.2,728.3 154.2,726.9 156.5,725.9 159.5,724.9 162.5,723.9 166.8,722.6 169.2,721.8 170.5,721.6 171.8,721.7 173.8,722.0 175.8,722.7 177.5,723.5 179.2,724.5 181.2,725.8 183.8,728.2 184.8,729.0 186.2,729.8 189.2,731.4 189.8,731.5 192.8,731.6 193.5,731.7 195.8,732.5 197.2,733.0 197.8,733.2 198.5,733.1 198.8,732.9 199.2,732.6 199.5,732.0 199.8,731.2 200.2,730.0 200.5,728.3 201.2,722.7 201.5,718.5 201.8,713.3 202.5,699.4 204.5,644.9 205.2,632.8 205.5,629.6 205.8,628.4 206.2,629.2 206.5,631.9 206.8,636.2 207.5,648.2 208.8,676.4 209.5,688.8 210.2,699.1 211.2,710.7 212.2,718.5 212.8,722.2 213.5,725.0 214.2,727.1 214.8,728.7 215.5,729.9 216.5,731.2 217.2,731.8 218.2,732.5 219.2,733.0 220.5,733.5 221.8,733.7 223.5,734.0 228.5,734.3 229.8,734.3 232.5,734.1 239.5,734.4 249.5,734.5 309.5,734.5" fill="none" stroke="#ff1a1a" stroke-width="1.8" stroke-linejoin="round" stroke-dasharray="4.9 2.0" clip-path="url(#cE)"/>
<line x1="220.4" y1="588.8" x2="236.5" y2="588.8" stroke="#ff1a1a" stroke-width="2" stroke-dasharray="4 2"/>
<text x="245" y="593.1" font-size="10.7" text-anchor="start" fill="#111" textLength="62.5" lengthAdjust="spacingAndGlyphs">10 min 65°C</text>
<line x1="220.4" y1="606.5" x2="236.5" y2="606.5" stroke="#1ee81e" stroke-width="1.8"/>
<text x="245" y="610.8" font-size="10.7" text-anchor="start" fill="#111" textLength="62.5" lengthAdjust="spacingAndGlyphs">10 min 60°C</text>
<line x1="220.4" y1="623.7" x2="236.5" y2="623.7" stroke="#444" stroke-width="2"/>
<text x="245" y="628" font-size="10.7" text-anchor="start" fill="#111" textLength="13.6" lengthAdjust="spacingAndGlyphs">NS</text>
<rect x="62.9" y="558" width="112.1" height="78.2" fill="#fff" stroke="#d4d4d4" stroke-width="0.9"/>
<line x1="62.9" y1="636.2" x2="62.9" y2="638" stroke="#c8c8c8" stroke-width="0.8"/>
<text x="62.9" y="645.1" font-size="6.4" text-anchor="middle" fill="#333">10</text>
<line x1="78.91" y1="636.2" x2="78.91" y2="638" stroke="#c8c8c8" stroke-width="0.8"/>
<text x="78.91" y="645.1" font-size="6.4" text-anchor="middle" fill="#333">12</text>
<line x1="94.93" y1="636.2" x2="94.93" y2="638" stroke="#c8c8c8" stroke-width="0.8"/>
<text x="94.93" y="645.1" font-size="6.4" text-anchor="middle" fill="#333">14</text>
<line x1="110.94" y1="636.2" x2="110.94" y2="638" stroke="#c8c8c8" stroke-width="0.8"/>
<text x="110.94" y="645.1" font-size="6.4" text-anchor="middle" fill="#333">16</text>
<line x1="126.96" y1="636.2" x2="126.96" y2="638" stroke="#c8c8c8" stroke-width="0.8"/>
<text x="126.96" y="645.1" font-size="6.4" text-anchor="middle" fill="#333">18</text>
<line x1="142.97" y1="636.2" x2="142.97" y2="638" stroke="#c8c8c8" stroke-width="0.8"/>
<text x="142.97" y="645.1" font-size="6.4" text-anchor="middle" fill="#333">20</text>
<line x1="158.99" y1="636.2" x2="158.99" y2="638" stroke="#c8c8c8" stroke-width="0.8"/>
<text x="158.99" y="645.1" font-size="6.4" text-anchor="middle" fill="#333">22</text>
<line x1="175" y1="636.2" x2="175" y2="638" stroke="#c8c8c8" stroke-width="0.8"/>
<text x="175" y="645.1" font-size="6.4" text-anchor="middle" fill="#333">24</text>
<line x1="61.1" y1="635" x2="62.9" y2="635" stroke="#c8c8c8" stroke-width="0.8"/>
<text x="60.7" y="637.3" font-size="6.4" text-anchor="end" fill="#333">0</text>
<line x1="61.1" y1="609.33" x2="62.9" y2="609.33" stroke="#c8c8c8" stroke-width="0.8"/>
<text x="60.7" y="611.63" font-size="6.4" text-anchor="end" fill="#333">20</text>
<line x1="61.1" y1="583.67" x2="62.9" y2="583.67" stroke="#c8c8c8" stroke-width="0.8"/>
<text x="60.7" y="585.97" font-size="6.4" text-anchor="end" fill="#333">40</text>
<line x1="61.1" y1="558" x2="62.9" y2="558" stroke="#c8c8c8" stroke-width="0.8"/>
<text x="60.7" y="560.3" font-size="6.4" text-anchor="end" fill="#333">60</text>
<text x="118.95" y="652.9" font-size="6.6" text-anchor="middle" fill="#111" font-weight="bold" textLength="37" lengthAdjust="spacingAndGlyphs">time [min]</text>
<path d="M62.9,635.0 122.4,635.0 123.8,634.8 126.4,634.0 129.4,632.8 132.4,632.3 134.1,632.2 134.8,632.3 136.4,632.9 137.4,633.1 139.4,633.2 140.1,633.0 140.4,632.9 140.7,632.5 141.1,631.7 141.4,630.2 141.7,627.3 142.1,622.4 142.4,614.3 142.7,601.6 143.4,558.0 156.0,558.0 156.4,562.9 157.4,582.0 158.0,591.7 158.7,599.4 159.4,605.7 160.4,613.1 161.0,617.0 162.0,621.5 163.0,624.8 164.0,627.2 164.7,628.4 165.4,629.4 166.0,630.3 167.0,631.3 168.0,632.0 169.3,632.8 170.3,633.3 171.3,633.6 172.3,633.7 174.3,633.1 175.0,633.1" fill="none" stroke="#333" stroke-width="1.2" stroke-linejoin="round" clip-path="url(#cIE)"/>
<path d="M62.9,635.0 103.1,635.0 104.1,634.7 106.5,633.4 107.1,633.1 112.8,631.3 116.5,629.9 117.8,629.5 122.4,628.7 125.8,628.5 126.8,628.6 128.4,629.3 129.1,629.3 129.4,629.3 130.1,628.9 131.8,627.7 132.4,627.5 132.8,627.4 133.4,627.6 134.1,628.1 136.1,629.7 137.7,631.3 138.4,631.8 139.1,632.1 139.4,632.2 140.1,632.0 140.4,631.7 140.7,631.2 141.1,630.4 141.4,628.8 141.7,626.1 142.1,621.3 142.4,613.5 142.7,600.9 143.4,558.0 155.7,558.0 156.0,562.9 157.0,582.9 157.7,592.9 158.4,600.8 159.0,607.1 160.0,614.4 160.7,618.1 161.7,622.5 162.7,625.6 163.7,627.8 164.4,629.0 165.0,629.9 165.7,630.7 166.7,631.6 167.7,632.3 169.0,633.0 170.3,633.5 171.3,633.8 172.3,633.8 174.3,633.2 175.0,633.1" fill="none" stroke="#1ee81e" stroke-width="1.3" stroke-linejoin="round" clip-path="url(#cIE)"/>
<path d="M62.9,635.0 74.9,635.0 75.5,634.7 76.2,634.3 77.5,633.2 78.2,632.6 78.9,631.6 79.5,630.4 81.2,627.2 84.5,619.0 90.2,606.1 93.2,599.6 95.5,595.1 98.8,589.5 102.2,584.4 106.8,578.2 109.1,574.5 109.8,573.8 110.1,573.5 110.5,573.3 110.8,573.3 111.5,573.4 112.1,573.8 113.5,574.8 114.1,575.5 114.8,576.4 115.8,578.0 116.8,579.9 117.8,582.1 119.4,586.5 121.8,593.8 122.8,597.6 124.4,604.7 125.4,608.3 126.8,612.1 129.8,619.6 130.4,620.6 130.8,620.9 133.8,620.9 134.1,621.0 134.4,621.3 135.1,622.2 136.7,624.9 138.4,628.0 138.7,628.5 139.1,628.7 139.4,628.6 139.7,628.1 140.1,627.3 140.4,625.8 140.7,623.5 141.1,620.0 141.4,614.8 141.7,607.4 142.1,597.2 142.7,565.8 143.1,558.0 153.7,558.0 154.0,561.8 154.7,578.1 155.4,590.5 156.0,600.0 156.7,607.3 157.4,612.9 158.4,619.0 159.4,623.1 160.0,625.1 160.7,626.8 161.7,628.8 162.7,630.2 164.0,631.4 165.7,632.4 167.0,632.9 169.0,633.5 170.3,633.9 171.3,634.0 172.3,634.0 174.3,633.3 175.0,633.2" fill="none" stroke="#ff3030" stroke-width="1.2" stroke-linejoin="round" stroke-dasharray="2.6 1.4" clip-path="url(#cIE)"/>
<rect x="409.3" y="548" width="267.2" height="186.4" fill="none" stroke="#a4a4a4" stroke-width="1.05"/>
<line x1="409.3" y1="734.4" x2="409.3" y2="737.9" stroke="#a8a8a8" stroke-width="1"/>
<text x="409.3" y="753.7" font-size="13.8" text-anchor="middle" fill="#111" stroke="#111" stroke-width="0.15">10</text>
<line x1="447.47" y1="734.4" x2="447.47" y2="737.9" stroke="#a8a8a8" stroke-width="1"/>
<text x="447.47" y="753.7" font-size="13.8" text-anchor="middle" fill="#111" stroke="#111" stroke-width="0.15">12</text>
<line x1="485.64" y1="734.4" x2="485.64" y2="737.9" stroke="#a8a8a8" stroke-width="1"/>
<text x="485.64" y="753.7" font-size="13.8" text-anchor="middle" fill="#111" stroke="#111" stroke-width="0.15">14</text>
<line x1="523.81" y1="734.4" x2="523.81" y2="737.9" stroke="#a8a8a8" stroke-width="1"/>
<text x="523.81" y="753.7" font-size="13.8" text-anchor="middle" fill="#111" stroke="#111" stroke-width="0.15">16</text>
<line x1="561.99" y1="734.4" x2="561.99" y2="737.9" stroke="#a8a8a8" stroke-width="1"/>
<text x="561.99" y="753.7" font-size="13.8" text-anchor="middle" fill="#111" stroke="#111" stroke-width="0.15">18</text>
<line x1="600.16" y1="734.4" x2="600.16" y2="737.9" stroke="#a8a8a8" stroke-width="1"/>
<text x="600.16" y="753.7" font-size="13.8" text-anchor="middle" fill="#111" stroke="#111" stroke-width="0.15">20</text>
<line x1="638.33" y1="734.4" x2="638.33" y2="737.9" stroke="#a8a8a8" stroke-width="1"/>
<text x="638.33" y="753.7" font-size="13.8" text-anchor="middle" fill="#111" stroke="#111" stroke-width="0.15">22</text>
<line x1="676.5" y1="734.4" x2="676.5" y2="737.9" stroke="#a8a8a8" stroke-width="1"/>
<text x="676.5" y="753.7" font-size="13.8" text-anchor="middle" fill="#111" stroke="#111" stroke-width="0.15">24</text>
<line x1="405.8" y1="722.91" x2="409.3" y2="722.91" stroke="#a8a8a8" stroke-width="1"/>
<text x="404" y="728.51" font-size="13.8" text-anchor="end" fill="#111" stroke="#111" stroke-width="0.15" textLength="20.6" lengthAdjust="spacingAndGlyphs">0.0</text>
<line x1="405.8" y1="664.61" x2="409.3" y2="664.61" stroke="#a8a8a8" stroke-width="1"/>
<text x="404" y="670.21" font-size="13.8" text-anchor="end" fill="#111" stroke="#111" stroke-width="0.15" textLength="20.6" lengthAdjust="spacingAndGlyphs">0.5</text>
<line x1="405.8" y1="606.3" x2="409.3" y2="606.3" stroke="#a8a8a8" stroke-width="1"/>
<text x="404" y="611.9" font-size="13.8" text-anchor="end" fill="#111" stroke="#111" stroke-width="0.15" textLength="20.6" lengthAdjust="spacingAndGlyphs">1.0</text>
<line x1="405.8" y1="548" x2="409.3" y2="548" stroke="#a8a8a8" stroke-width="1"/>
<text x="404" y="553.6" font-size="13.8" text-anchor="end" fill="#111" stroke="#111" stroke-width="0.15" textLength="20.6" lengthAdjust="spacingAndGlyphs">1.5</text>
<text x="542.9" y="769" font-size="11.5" text-anchor="middle" fill="#111" stroke="#111" stroke-width="0.35" font-weight="bold" textLength="67.5" lengthAdjust="spacingAndGlyphs">time [min]</text>
<text x="369" y="641.8" font-size="12.8" text-anchor="middle" fill="#111" stroke="#111" stroke-width="0.35" font-weight="bold" textLength="174" lengthAdjust="spacingAndGlyphs" transform="rotate(-90 369 641.8)">CCVJ fluorescence [a.u.]</text>
<text x="358.5" y="533.5" font-size="21.5" text-anchor="start" fill="#111" textLength="31.0" lengthAdjust="spacingAndGlyphs">(F)</text>
<path d="M409.3,725.4 410.1,725.9 410.9,724.1 411.7,726.0 412.5,724.4 413.3,724.7 414.1,726.2 414.9,727.4 415.7,725.2 416.5,725.5 417.3,724.5 418.1,727.8 418.9,726.0 419.7,725.5 420.5,725.4 421.3,725.6 422.1,725.4 422.9,728.8 423.7,726.2 424.5,726.7 425.3,727.8 426.2,725.6 427.0,726.3 427.8,727.3 428.6,727.6 429.4,725.4 430.2,729.1 431.0,725.9 431.8,727.2 432.6,725.6 433.4,723.3 434.2,724.4 435.0,725.8 435.8,723.8 436.6,723.3 437.4,724.4 438.2,723.3 439.0,725.4 439.8,724.9 440.6,725.8 441.4,726.2 442.2,725.6 443.0,726.7 443.8,725.8 444.6,722.8 445.4,724.7 446.2,725.9 447.0,723.4 447.8,723.7 448.6,727.0 449.4,726.5 450.2,723.3 451.0,725.4 451.8,725.3 452.6,726.2 453.4,726.9 454.2,724.0 455.0,726.5 455.8,724.8 456.6,723.0 457.4,724.7 458.2,725.1 459.0,723.1 459.9,722.1 460.7,722.3 461.5,720.4 462.3,721.4 463.1,721.2 463.9,718.8 464.7,719.4 465.5,717.1 466.3,715.4 467.1,714.0 467.9,710.8 468.7,713.2 469.5,711.3 470.3,709.9 471.1,709.1 471.9,703.3 472.7,704.7 473.5,701.6 474.3,698.8 475.1,692.5 475.9,693.0 476.7,690.5 477.5,684.6 478.3,683.9 479.1,682.5 479.9,675.1 480.7,672.2 481.5,671.9 482.3,668.2 483.1,663.0 483.9,660.6 484.7,657.6 485.5,653.5 486.3,645.9 487.1,643.2 487.9,642.4 488.7,637.8 489.5,634.2 490.3,631.7 491.1,628.2 491.9,622.7 492.7,622.8 493.6,620.0 494.4,616.1 495.2,614.0 496.0,610.9 496.8,608.2 497.6,606.4 498.4,601.0 499.2,601.2 500.0,596.4 500.8,597.3 501.6,595.4 502.4,592.0 503.2,590.8 504.0,587.6 504.8,586.1 505.6,582.4 506.4,587.7 507.2,583.8 508.0,581.1 508.8,580.0 509.6,578.5 510.4,573.9 511.2,579.1 512.0,574.2 512.8,574.3 513.6,572.9 514.4,570.5 515.2,571.1 516.0,569.1 516.8,567.6 517.6,566.9 518.4,570.3 519.2,568.1 520.0,568.4 520.8,567.3 521.6,566.0 522.4,562.8 523.2,566.3 524.0,566.0 524.8,566.2 525.6,564.4 526.5,567.6 527.3,566.9 528.1,567.2 528.9,568.3 529.7,572.6 530.5,572.5 531.3,570.8 532.1,575.0 532.9,574.0 533.7,576.8 534.5,575.6 535.3,577.7 536.1,581.4 536.9,581.5 537.7,584.4 538.5,585.7 539.3,585.4 540.1,588.8 540.9,590.8 541.7,591.4 542.5,595.4 543.3,596.1 544.1,599.6 544.9,602.3 545.7,605.8 546.5,609.1 547.3,612.1 548.1,614.8 548.9,615.7 549.7,618.7 550.5,623.1 551.3,623.0 552.1,628.1 552.9,630.3 553.7,634.1 554.5,635.9 555.3,636.1 556.1,639.1 556.9,643.0 557.7,643.0 558.5,647.0 559.3,649.2 560.2,650.3 561.0,653.3 561.8,656.6 562.6,659.7 563.4,658.9 564.2,665.9 565.0,665.8 565.8,669.5 566.6,670.1 567.4,670.3 568.2,673.7 569.0,675.6 569.8,676.6 570.6,675.2 571.4,677.1 572.2,679.6 573.0,681.7 573.8,682.3 574.6,682.2 575.4,683.8 576.2,684.6 577.0,686.8 577.8,688.2 578.6,688.9 579.4,688.1 580.2,690.6 581.0,687.0 581.8,690.4 582.6,691.0 583.4,691.3 584.2,694.6 585.0,695.5 585.8,694.9 586.6,694.5 587.4,695.1 588.2,694.3 589.0,695.1 589.8,696.1 590.6,696.4 591.4,698.0 592.2,697.5 593.1,699.3 593.9,699.8 594.7,698.3 595.5,701.9 596.3,698.2 597.1,697.8 597.9,701.1 598.7,699.7 599.5,700.5 600.3,702.1 601.1,700.4 601.9,700.1 602.7,698.5 603.5,698.6 604.3,696.2 605.1,694.5 605.9,688.9 606.7,686.3 607.5,680.9 608.3,679.0 609.1,674.5 609.9,673.2 610.7,670.6 611.5,666.3 612.3,667.3 613.1,667.8 613.9,668.0 614.7,671.7 615.5,670.1 616.3,675.8 617.1,678.4 617.9,678.9 618.7,687.9 619.5,686.9 620.3,691.2 621.1,692.8 621.9,696.5 622.7,696.3 623.5,699.3 624.3,697.4 625.1,700.0 625.9,701.4 626.8,702.0 627.6,702.3 628.4,701.6 629.2,703.0 630.0,705.1 630.8,705.9 631.6,706.6 632.4,704.8 633.2,705.7 634.0,708.2 634.8,709.3 635.6,707.7 636.4,708.7 637.2,707.7 638.0,708.9 638.8,708.6 639.6,708.4 640.4,708.4 641.2,710.4 642.0,709.5 642.8,711.4 643.6,712.5 644.4,711.0 645.2,709.9 646.0,709.9 646.8,712.0 647.6,714.3 648.4,711.9 649.2,712.7 650.0,711.8 650.8,711.3 651.6,713.4 652.4,713.8 653.2,713.5 654.0,714.0 654.8,714.5 655.6,713.1 656.4,714.4 657.2,713.9 658.0,714.1 658.8,714.5 659.6,713.1 660.5,714.5 661.3,714.1 662.1,713.1 662.9,714.4 663.7,716.1 664.5,714.9 665.3,715.0 666.1,713.6 666.9,712.4 667.7,714.3 668.5,714.8 669.3,712.8 670.1,715.6 670.9,714.3 671.7,714.1 672.5,714.8 673.3,715.0 674.1,714.6 674.9,712.8 675.7,714.1 676.5,715.5" fill="none" stroke="#ff1a1a" stroke-width="0.85" stroke-linejoin="round" clip-path="url(#cF)"/>
<path d="M409.3,723.9 410.1,723.0 410.9,721.9 411.7,723.2 412.5,724.1 413.3,722.4 414.1,723.1 414.9,724.1 415.7,725.3 416.5,724.2 417.3,723.0 418.1,725.8 418.9,726.6 419.7,723.6 420.5,726.5 421.3,726.2 422.1,724.6 422.9,724.7 423.7,724.3 424.5,724.1 425.3,723.6 426.2,724.5 427.0,725.5 427.8,728.3 428.6,722.6 429.4,723.2 430.2,723.5 431.0,724.4 431.8,725.6 432.6,723.7 433.4,724.4 434.2,726.2 435.0,722.9 435.8,726.3 436.6,724.9 437.4,721.9 438.2,725.5 439.0,724.1 439.8,722.9 440.6,724.3 441.4,726.3 442.2,725.0 443.0,724.4 443.8,726.4 444.6,722.3 445.4,723.9 446.2,723.3 447.0,723.9 447.8,723.8 448.6,724.8 449.4,726.3 450.2,723.3 451.0,724.2 451.8,722.1 452.6,725.9 453.4,724.0 454.2,721.2 455.0,726.1 455.8,725.9 456.6,723.9 457.4,721.9 458.2,725.9 459.0,724.1 459.9,724.5 460.7,725.0 461.5,724.6 462.3,722.5 463.1,724.0 463.9,726.0 464.7,725.1 465.5,724.1 466.3,726.1 467.1,725.1 467.9,724.7 468.7,727.1 469.5,721.6 470.3,726.4 471.1,724.1 471.9,724.4 472.7,725.0 473.5,722.4 474.3,724.0 475.1,725.3 475.9,722.5 476.7,723.3 477.5,725.5 478.3,726.2 479.1,722.8 479.9,724.3 480.7,726.1 481.5,723.3 482.3,726.0 483.1,725.0 483.9,725.2 484.7,726.8 485.5,723.0 486.3,719.1 487.1,723.1 487.9,723.4 488.7,724.3 489.5,724.1 490.3,723.6 491.1,723.1 491.9,724.6 492.7,723.9 493.6,724.2 494.4,723.1 495.2,722.6 496.0,722.3 496.8,724.5 497.6,724.5 498.4,722.8 499.2,724.2 500.0,724.1 500.8,723.1 501.6,723.2 502.4,721.9 503.2,725.4 504.0,722.1 504.8,724.3 505.6,722.7 506.4,725.5 507.2,723.8 508.0,724.5 508.8,721.1 509.6,724.9 510.4,722.0 511.2,724.7 512.0,725.1 512.8,723.1 513.6,722.0 514.4,723.6 515.2,722.6 516.0,723.1 516.8,723.5 517.6,721.5 518.4,723.4 519.2,722.2 520.0,725.0 520.8,723.6 521.6,722.0 522.4,723.9 523.2,726.3 524.0,722.2 524.8,722.4 525.6,723.6 526.5,723.0 527.3,723.6 528.1,722.6 528.9,721.6 529.7,722.7 530.5,723.2 531.3,723.7 532.1,723.2 532.9,723.7 533.7,721.6 534.5,724.4 535.3,723.7 536.1,722.4 536.9,722.4 537.7,722.5 538.5,723.4 539.3,722.5 540.1,724.8 540.9,724.9 541.7,724.5 542.5,722.2 543.3,720.8 544.1,723.3 544.9,723.4 545.7,723.0 546.5,720.0 547.3,722.2 548.1,722.4 548.9,723.3 549.7,721.8 550.5,720.6 551.3,722.2 552.1,723.5 552.9,720.5 553.7,722.4 554.5,719.8 555.3,723.8 556.1,722.5 556.9,721.9 557.7,724.7 558.5,722.1 559.3,721.4 560.2,722.4 561.0,721.6 561.8,721.9 562.6,723.3 563.4,721.1 564.2,723.2 565.0,722.5 565.8,723.1 566.6,721.2 567.4,722.7 568.2,722.7 569.0,725.1 569.8,722.5 570.6,720.7 571.4,725.0 572.2,721.5 573.0,722.1 573.8,724.5 574.6,722.6 575.4,720.7 576.2,722.0 577.0,721.5 577.8,720.5 578.6,722.4 579.4,720.8 580.2,723.7 581.0,723.2 581.8,719.9 582.6,720.1 583.4,720.6 584.2,724.0 585.0,722.2 585.8,723.1 586.6,719.2 587.4,723.7 588.2,723.6 589.0,722.6 589.8,721.3 590.6,722.6 591.4,722.2 592.2,721.3 593.1,721.6 593.9,724.3 594.7,723.4 595.5,719.3 596.3,721.5 597.1,719.0 597.9,719.4 598.7,719.8 599.5,720.5 600.3,717.3 601.1,718.5 601.9,712.9 602.7,712.1 603.5,707.9 604.3,704.4 605.1,699.5 605.9,694.0 606.7,688.5 607.5,681.7 608.3,674.1 609.1,664.4 609.9,655.8 610.7,648.8 611.5,646.7 612.3,646.8 613.1,646.6 613.9,647.0 614.7,652.0 615.5,654.3 616.3,658.9 617.1,663.3 617.9,668.1 618.7,670.5 619.5,677.9 620.3,683.8 621.1,687.3 621.9,690.8 622.7,693.8 623.5,696.3 624.3,700.1 625.1,701.8 625.9,701.8 626.8,702.1 627.6,710.1 628.4,706.1 629.2,708.8 630.0,710.5 630.8,712.7 631.6,713.7 632.4,715.6 633.2,714.6 634.0,717.3 634.8,717.0 635.6,719.4 636.4,716.2 637.2,717.3 638.0,720.3 638.8,718.4 639.6,720.0 640.4,720.9 641.2,719.9 642.0,719.0 642.8,718.3 643.6,720.1 644.4,718.8 645.2,719.5 646.0,719.5 646.8,719.1 647.6,722.3 648.4,721.0 649.2,718.4 650.0,722.3 650.8,721.6 651.6,717.8 652.4,721.9 653.2,720.3 654.0,720.1 654.8,720.8 655.6,719.1 656.4,719.2 657.2,721.4 658.0,718.0 658.8,721.5 659.6,721.0 660.5,720.5 661.3,720.0 662.1,721.8 662.9,719.9 663.7,723.3 664.5,720.9 665.3,721.5 666.1,721.2 666.9,720.3 667.7,719.8 668.5,721.1 669.3,720.0 670.1,722.1 670.9,720.5 671.7,718.6 672.5,720.8 673.3,720.2 674.1,719.7 674.9,718.5 675.7,719.0 676.5,719.7" fill="none" stroke="#10e010" stroke-width="0.85" stroke-linejoin="round" clip-path="url(#cF)"/>
<path d="M409.3,726.0 410.1,724.3 410.9,728.6 411.7,724.0 412.5,725.6 413.3,723.7 414.1,724.7 414.9,722.7 415.7,725.5 416.5,727.3 417.3,724.6 418.1,725.3 418.9,724.7 419.7,723.0 420.5,725.9 421.3,723.7 422.1,723.4 422.9,723.1 423.7,727.4 424.5,724.4 425.3,725.6 426.2,724.9 427.0,725.7 427.8,725.1 428.6,723.3 429.4,722.3 430.2,723.7 431.0,726.3 431.8,722.9 432.6,726.3 433.4,725.1 434.2,723.1 435.0,725.4 435.8,723.6 436.6,725.0 437.4,726.2 438.2,724.3 439.0,725.3 439.8,722.2 440.6,722.1 441.4,722.5 442.2,726.0 443.0,722.0 443.8,724.2 444.6,723.9 445.4,724.3 446.2,725.4 447.0,724.4 447.8,723.4 448.6,722.5 449.4,723.8 450.2,724.6 451.0,725.3 451.8,725.0 452.6,722.4 453.4,723.6 454.2,724.3 455.0,726.9 455.8,727.0 456.6,723.7 457.4,723.7 458.2,723.1 459.0,724.3 459.9,725.5 460.7,727.0 461.5,725.9 462.3,727.8 463.1,724.2 463.9,723.9 464.7,722.7 465.5,727.1 466.3,726.6 467.1,723.8 467.9,724.1 468.7,727.4 469.5,725.6 470.3,724.5 471.1,725.1 471.9,724.1 472.7,724.6 473.5,725.4 474.3,724.1 475.1,724.7 475.9,723.0 476.7,726.6 477.5,724.9 478.3,725.6 479.1,725.0 479.9,724.1 480.7,723.7 481.5,727.6 482.3,723.0 483.1,723.9 483.9,723.9 484.7,724.5 485.5,723.3 486.3,724.0 487.1,727.1 487.9,725.5 488.7,725.0 489.5,725.1 490.3,725.2 491.1,723.8 491.9,726.2 492.7,725.7 493.6,726.0 494.4,724.7 495.2,724.0 496.0,725.9 496.8,724.1 497.6,725.4 498.4,722.7 499.2,727.7 500.0,724.6 500.8,723.0 501.6,725.1 502.4,726.2 503.2,725.8 504.0,723.8 504.8,725.4 505.6,723.1 506.4,724.5 507.2,725.4 508.0,725.2 508.8,723.9 509.6,723.2 510.4,725.7 511.2,726.3 512.0,726.2 512.8,723.9 513.6,722.1 514.4,725.3 515.2,723.7 516.0,725.1 516.8,723.3 517.6,726.7 518.4,723.8 519.2,726.4 520.0,725.8 520.8,724.1 521.6,724.9 522.4,724.7 523.2,723.8 524.0,724.3 524.8,722.5 525.6,723.5 526.5,725.8 527.3,724.7 528.1,725.3 528.9,725.1 529.7,722.1 530.5,725.7 531.3,722.8 532.1,722.5 532.9,720.7 533.7,724.5 534.5,724.2 535.3,724.1 536.1,725.1 536.9,722.1 537.7,721.8 538.5,727.8 539.3,725.0 540.1,722.9 540.9,726.0 541.7,725.5 542.5,724.5 543.3,724.6 544.1,724.8 544.9,724.7 545.7,722.0 546.5,727.8 547.3,725.2 548.1,726.1 548.9,724.2 549.7,725.1 550.5,723.8 551.3,724.5 552.1,721.3 552.9,726.4 553.7,725.2 554.5,723.3 555.3,725.0 556.1,724.3 556.9,726.7 557.7,723.5 558.5,724.7 559.3,723.7 560.2,725.8 561.0,725.3 561.8,725.7 562.6,722.1 563.4,727.0 564.2,723.9 565.0,724.1 565.8,722.7 566.6,724.1 567.4,725.9 568.2,723.7 569.0,726.9 569.8,723.0 570.6,724.6 571.4,725.5 572.2,725.1 573.0,723.6 573.8,726.8 574.6,722.0 575.4,725.4 576.2,722.2 577.0,724.2 577.8,721.7 578.6,726.1 579.4,723.1 580.2,724.4 581.0,725.3 581.8,723.2 582.6,724.7 583.4,725.4 584.2,724.6 585.0,725.4 585.8,724.6 586.6,724.4 587.4,722.8 588.2,724.4 589.0,725.4 589.8,723.2 590.6,724.8 591.4,725.6 592.2,726.0 593.1,721.7 593.9,724.4 594.7,721.9 595.5,725.6 596.3,725.7 597.1,721.7 597.9,724.5 598.7,724.3 599.5,723.4 600.3,722.9 601.1,718.0 601.9,718.9 602.7,712.8 603.5,711.3 604.3,701.3 605.1,699.0 605.9,693.4 606.7,691.6 607.5,681.5 608.3,675.0 609.1,667.5 609.9,660.3 610.7,652.1 611.5,649.4 612.3,649.1 613.1,650.1 613.9,652.0 614.7,654.6 615.5,657.5 616.3,662.5 617.1,666.0 617.9,671.7 618.7,672.8 619.5,677.2 620.3,684.4 621.1,687.2 621.9,694.7 622.7,696.4 623.5,697.3 624.3,700.7 625.1,704.0 625.9,704.1 626.8,706.7 627.6,706.1 628.4,708.1 629.2,711.0 630.0,711.5 630.8,711.4 631.6,713.9 632.4,715.8 633.2,718.7 634.0,720.5 634.8,721.7 635.6,719.9 636.4,723.3 637.2,721.5 638.0,720.0 638.8,724.7 639.6,722.1 640.4,724.2 641.2,723.1 642.0,722.4 642.8,724.6 643.6,725.2 644.4,724.0 645.2,723.2 646.0,724.1 646.8,724.9 647.6,722.6 648.4,725.2 649.2,725.6 650.0,723.4 650.8,720.5 651.6,724.3 652.4,723.7 653.2,725.0 654.0,724.4 654.8,725.2 655.6,723.2 656.4,724.5 657.2,724.7 658.0,722.3 658.8,725.6 659.6,722.3 660.5,723.8 661.3,724.9 662.1,723.6 662.9,724.0 663.7,723.1 664.5,723.9 665.3,720.9 666.1,722.1 666.9,722.0 667.7,725.3 668.5,724.1 669.3,721.9 670.1,722.7 670.9,723.5 671.7,723.7 672.5,722.1 673.3,726.3 674.1,724.8 674.9,725.5 675.7,721.9 676.5,725.5" fill="none" stroke="#111" stroke-width="0.85" stroke-linejoin="round" clip-path="url(#cF)"/>
<line x1="581.4" y1="566.4" x2="596.5" y2="566.4" stroke="#ff7070" stroke-width="0.9"/>
<text x="604.9" y="570.7" font-size="10.7" text-anchor="start" fill="#111" textLength="62.5" lengthAdjust="spacingAndGlyphs">10 min 65°C</text>
<line x1="581.4" y1="587.5" x2="596.5" y2="587.5" stroke="#70e070" stroke-width="0.9"/>
<text x="604.9" y="591.8" font-size="10.7" text-anchor="start" fill="#111" textLength="62.5" lengthAdjust="spacingAndGlyphs">10 min 60°C</text>
<line x1="581.4" y1="608.5" x2="596.5" y2="608.5" stroke="#555" stroke-width="0.9"/>
<text x="604.9" y="612.8" font-size="10.7" text-anchor="start" fill="#111" textLength="13.6" lengthAdjust="spacingAndGlyphs">NS</text>
</svg></body></html>
